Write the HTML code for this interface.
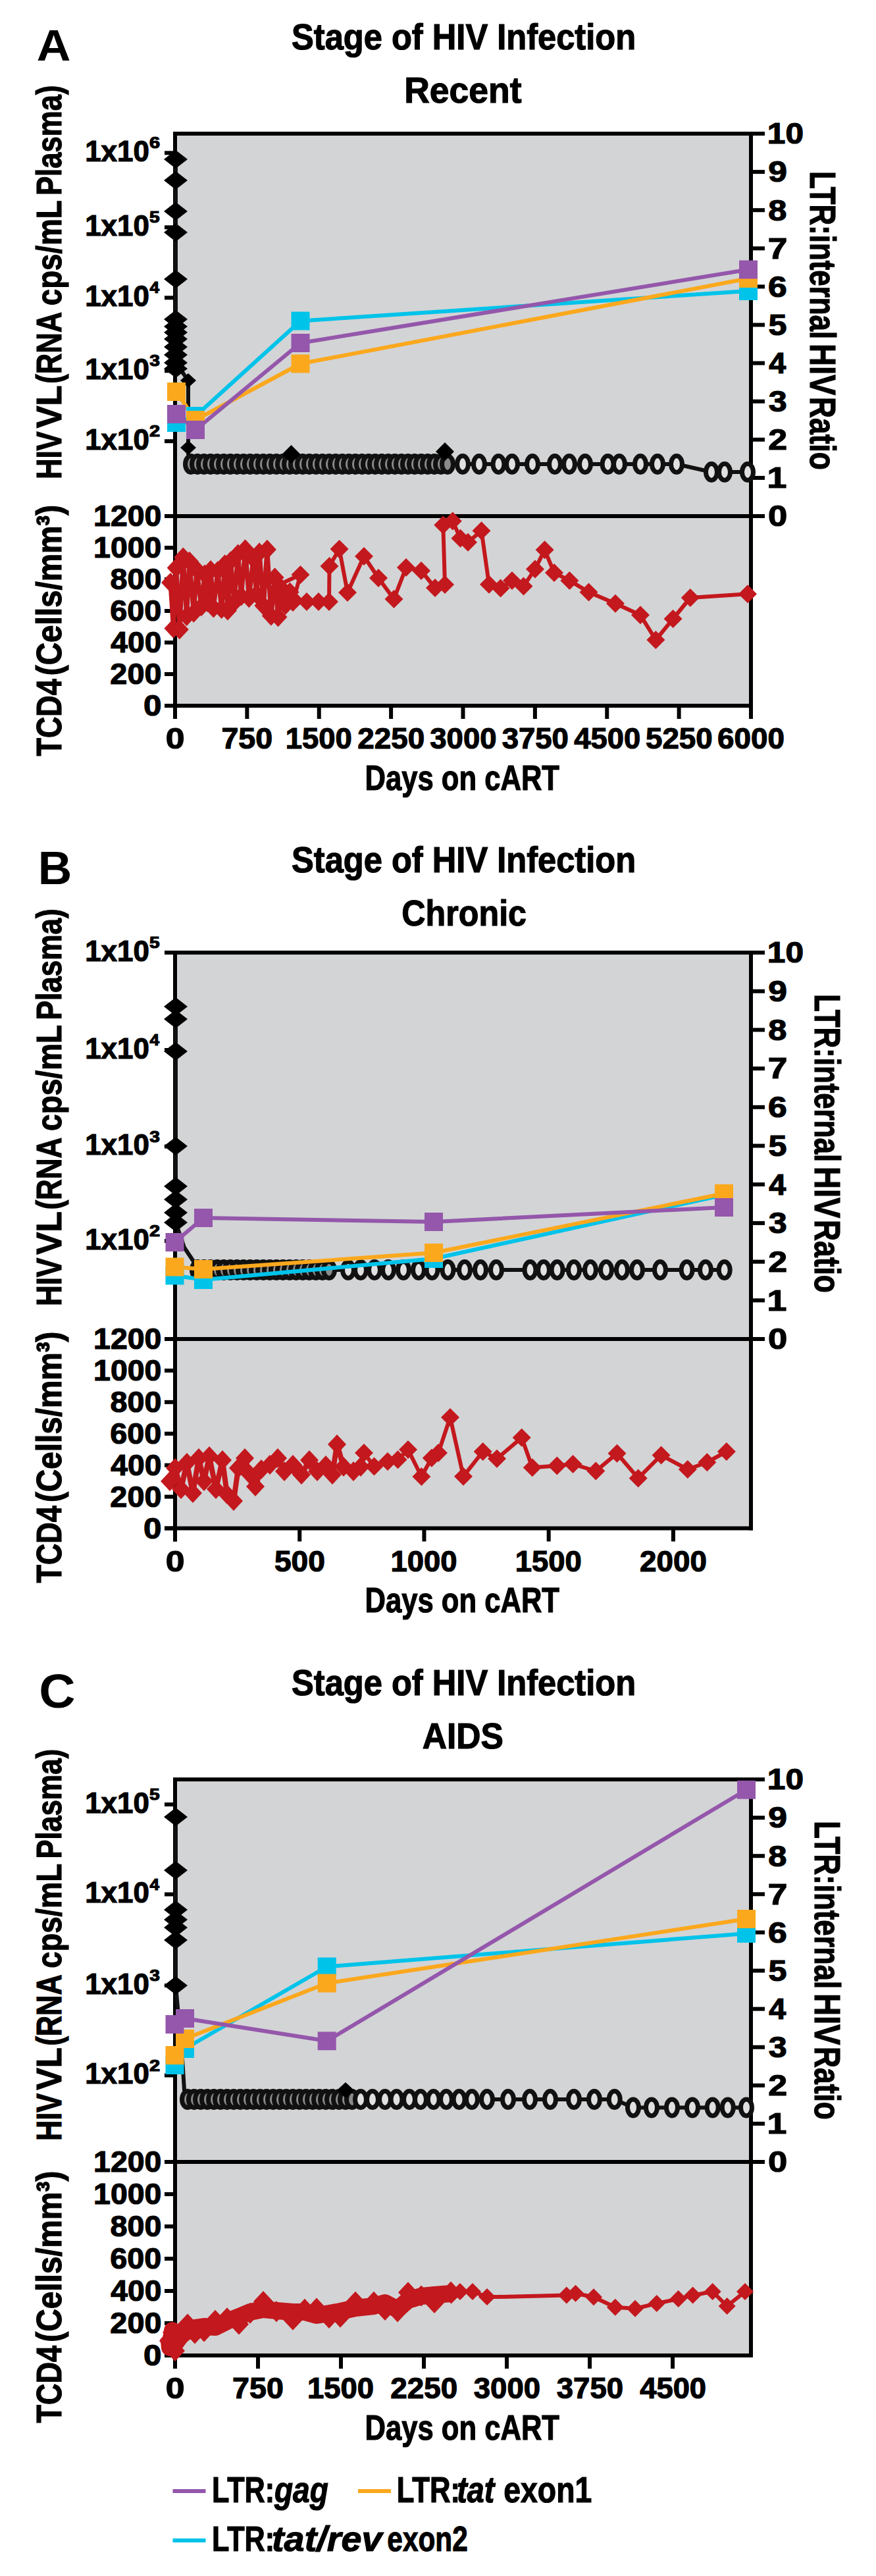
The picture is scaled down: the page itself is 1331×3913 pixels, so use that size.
<!DOCTYPE html>
<html><head><meta charset="utf-8"><style>html,body{margin:0;padding:0;background:#fff;}svg{display:block;}
text{font-family:"Liberation Sans",sans-serif;}</style></head><body><svg width="1331" height="3913" viewBox="0 0 1331 3913" font-family="Liberation Sans, sans-serif"><text x="55.72" y="92.00" font-size="66.86" font-weight="bold" font-style="normal" textLength="51.67" lengthAdjust="spacingAndGlyphs" fill="#000" >A</text><text x="443.04" y="75.30" font-size="54.65" font-weight="bold" font-style="normal" textLength="523.10" lengthAdjust="spacingAndGlyphs" fill="#000"  stroke="#000" stroke-width="1.2">Stage of HIV Infection</text><text x="614.22" y="156.20" font-size="55.81" font-weight="bold" font-style="normal" textLength="178.23" lengthAdjust="spacingAndGlyphs" fill="#000"  stroke="#000" stroke-width="1.2">Recent</text><rect x="266.00" y="203.00" width="875.00" height="869.00" fill="#d3d4d6"/><line x1="263.00" y1="203.00" x2="1162.00" y2="203.00" stroke="#000" stroke-width="6" /><line x1="266.00" y1="200.00" x2="266.00" y2="1092.00" stroke="#000" stroke-width="6" /><line x1="1141.00" y1="200.00" x2="1141.00" y2="1075.00" stroke="#000" stroke-width="6" /><line x1="250.00" y1="784.00" x2="1162.00" y2="784.00" stroke="#000" stroke-width="6" /><line x1="250.00" y1="1072.00" x2="1144.00" y2="1072.00" stroke="#000" stroke-width="6" /><line x1="250.00" y1="232.30" x2="266.00" y2="232.30" stroke="#000" stroke-width="6" /><text x="129.24" y="244.80" font-size="44.77" font-weight="bold" font-style="normal" textLength="97.56" lengthAdjust="spacingAndGlyphs" fill="#000"  stroke="#000" stroke-width="1.2">1x10</text><text x="226.94" y="225.30" font-size="24.71" font-weight="bold" font-style="normal" textLength="16.11" lengthAdjust="spacingAndGlyphs" fill="#000"  stroke="#000" stroke-width="1.2">6</text><line x1="250.00" y1="345.30" x2="266.00" y2="345.30" stroke="#000" stroke-width="6" /><text x="129.24" y="357.80" font-size="44.77" font-weight="bold" font-style="normal" textLength="97.56" lengthAdjust="spacingAndGlyphs" fill="#000"  stroke="#000" stroke-width="1.2">1x10</text><text x="227.13" y="338.30" font-size="24.71" font-weight="bold" font-style="normal" textLength="15.65" lengthAdjust="spacingAndGlyphs" fill="#000"  stroke="#000" stroke-width="1.2">5</text><line x1="250.00" y1="452.30" x2="266.00" y2="452.30" stroke="#000" stroke-width="6" /><text x="129.24" y="464.80" font-size="44.77" font-weight="bold" font-style="normal" textLength="97.56" lengthAdjust="spacingAndGlyphs" fill="#000"  stroke="#000" stroke-width="1.2">1x10</text><text x="227.60" y="445.30" font-size="24.71" font-weight="bold" font-style="normal" textLength="14.54" lengthAdjust="spacingAndGlyphs" fill="#000"  stroke="#000" stroke-width="1.2">4</text><line x1="250.00" y1="563.30" x2="266.00" y2="563.30" stroke="#000" stroke-width="6" /><text x="129.24" y="575.80" font-size="44.77" font-weight="bold" font-style="normal" textLength="97.56" lengthAdjust="spacingAndGlyphs" fill="#000"  stroke="#000" stroke-width="1.2">1x10</text><text x="227.35" y="556.30" font-size="24.71" font-weight="bold" font-style="normal" textLength="15.66" lengthAdjust="spacingAndGlyphs" fill="#000"  stroke="#000" stroke-width="1.2">3</text><line x1="250.00" y1="670.20" x2="266.00" y2="670.20" stroke="#000" stroke-width="6" /><text x="129.24" y="682.70" font-size="44.77" font-weight="bold" font-style="normal" textLength="97.56" lengthAdjust="spacingAndGlyphs" fill="#000"  stroke="#000" stroke-width="1.2">1x10</text><text x="226.99" y="663.20" font-size="24.71" font-weight="bold" font-style="normal" textLength="16.17" lengthAdjust="spacingAndGlyphs" fill="#000"  stroke="#000" stroke-width="1.2">2</text><line x1="1141.00" y1="784.00" x2="1162.00" y2="784.00" stroke="#000" stroke-width="6" /><text x="1166.92" y="799.30" font-size="44.48" font-weight="bold" font-style="normal" textLength="29.24" lengthAdjust="spacingAndGlyphs" fill="#000"  stroke="#000" stroke-width="1.2">0</text><line x1="1141.00" y1="725.90" x2="1162.00" y2="725.90" stroke="#000" stroke-width="6" /><text x="1165.62" y="741.20" font-size="44.48" font-weight="bold" font-style="normal" textLength="29.88" lengthAdjust="spacingAndGlyphs" fill="#000"  stroke="#000" stroke-width="1.2">1</text><line x1="1141.00" y1="667.80" x2="1162.00" y2="667.80" stroke="#000" stroke-width="6" /><text x="1167.20" y="683.10" font-size="44.48" font-weight="bold" font-style="normal" textLength="28.88" lengthAdjust="spacingAndGlyphs" fill="#000"  stroke="#000" stroke-width="1.2">2</text><line x1="1141.00" y1="609.70" x2="1162.00" y2="609.70" stroke="#000" stroke-width="6" /><text x="1167.85" y="625.00" font-size="44.48" font-weight="bold" font-style="normal" textLength="27.97" lengthAdjust="spacingAndGlyphs" fill="#000"  stroke="#000" stroke-width="1.2">3</text><line x1="1141.00" y1="551.60" x2="1162.00" y2="551.60" stroke="#000" stroke-width="6" /><text x="1168.29" y="566.90" font-size="44.48" font-weight="bold" font-style="normal" textLength="25.96" lengthAdjust="spacingAndGlyphs" fill="#000"  stroke="#000" stroke-width="1.2">4</text><line x1="1141.00" y1="493.50" x2="1162.00" y2="493.50" stroke="#000" stroke-width="6" /><text x="1167.45" y="508.80" font-size="44.48" font-weight="bold" font-style="normal" textLength="27.94" lengthAdjust="spacingAndGlyphs" fill="#000"  stroke="#000" stroke-width="1.2">5</text><line x1="1141.00" y1="435.40" x2="1162.00" y2="435.40" stroke="#000" stroke-width="6" /><text x="1167.11" y="450.70" font-size="44.48" font-weight="bold" font-style="normal" textLength="28.76" lengthAdjust="spacingAndGlyphs" fill="#000"  stroke="#000" stroke-width="1.2">6</text><line x1="1141.00" y1="377.30" x2="1162.00" y2="377.30" stroke="#000" stroke-width="6" /><text x="1166.71" y="392.60" font-size="44.48" font-weight="bold" font-style="normal" textLength="29.63" lengthAdjust="spacingAndGlyphs" fill="#000"  stroke="#000" stroke-width="1.2">7</text><line x1="1141.00" y1="319.20" x2="1162.00" y2="319.20" stroke="#000" stroke-width="6" /><text x="1167.39" y="334.50" font-size="44.48" font-weight="bold" font-style="normal" textLength="28.17" lengthAdjust="spacingAndGlyphs" fill="#000"  stroke="#000" stroke-width="1.2">8</text><line x1="1141.00" y1="261.10" x2="1162.00" y2="261.10" stroke="#000" stroke-width="6" /><text x="1167.21" y="276.40" font-size="44.48" font-weight="bold" font-style="normal" textLength="28.70" lengthAdjust="spacingAndGlyphs" fill="#000"  stroke="#000" stroke-width="1.2">9</text><line x1="1141.00" y1="203.00" x2="1162.00" y2="203.00" stroke="#000" stroke-width="6" /><text x="1165.88" y="218.30" font-size="44.48" font-weight="bold" font-style="normal" textLength="55.16" lengthAdjust="spacingAndGlyphs" fill="#000"  stroke="#000" stroke-width="1.2">10</text><line x1="250.00" y1="1072.00" x2="266.00" y2="1072.00" stroke="#000" stroke-width="6" /><text x="218.05" y="1087.30" font-size="44.48" font-weight="bold" font-style="normal" textLength="27.48" lengthAdjust="spacingAndGlyphs" fill="#000"  stroke="#000" stroke-width="1.2">0</text><line x1="250.00" y1="1024.00" x2="266.00" y2="1024.00" stroke="#000" stroke-width="6" /><text x="167.38" y="1039.30" font-size="44.48" font-weight="bold" font-style="normal" textLength="78.04" lengthAdjust="spacingAndGlyphs" fill="#000"  stroke="#000" stroke-width="1.2">200</text><line x1="250.00" y1="976.00" x2="266.00" y2="976.00" stroke="#000" stroke-width="6" /><text x="168.30" y="991.30" font-size="44.48" font-weight="bold" font-style="normal" textLength="77.09" lengthAdjust="spacingAndGlyphs" fill="#000"  stroke="#000" stroke-width="1.2">400</text><line x1="250.00" y1="928.00" x2="266.00" y2="928.00" stroke="#000" stroke-width="6" /><text x="167.28" y="943.30" font-size="44.48" font-weight="bold" font-style="normal" textLength="78.14" lengthAdjust="spacingAndGlyphs" fill="#000"  stroke="#000" stroke-width="1.2">600</text><line x1="250.00" y1="880.00" x2="266.00" y2="880.00" stroke="#000" stroke-width="6" /><text x="167.52" y="895.30" font-size="44.48" font-weight="bold" font-style="normal" textLength="77.90" lengthAdjust="spacingAndGlyphs" fill="#000"  stroke="#000" stroke-width="1.2">800</text><line x1="250.00" y1="832.00" x2="266.00" y2="832.00" stroke="#000" stroke-width="6" /><text x="142.07" y="847.30" font-size="44.48" font-weight="bold" font-style="normal" textLength="103.33" lengthAdjust="spacingAndGlyphs" fill="#000"  stroke="#000" stroke-width="1.2">1000</text><line x1="250.00" y1="784.00" x2="266.00" y2="784.00" stroke="#000" stroke-width="6" /><text x="142.07" y="799.30" font-size="44.48" font-weight="bold" font-style="normal" textLength="103.33" lengthAdjust="spacingAndGlyphs" fill="#000"  stroke="#000" stroke-width="1.2">1200</text><line x1="266.00" y1="1072.00" x2="266.00" y2="1092.00" stroke="#000" stroke-width="6" /><text x="251.65" y="1137.00" font-size="45.06" font-weight="bold" font-style="normal" textLength="28.77" lengthAdjust="spacingAndGlyphs" fill="#000"  stroke="#000" stroke-width="1.2">0</text><line x1="375.38" y1="1072.00" x2="375.38" y2="1092.00" stroke="#000" stroke-width="6" /><text x="336.47" y="1137.00" font-size="45.06" font-weight="bold" font-style="normal" textLength="77.71" lengthAdjust="spacingAndGlyphs" fill="#000"  stroke="#000" stroke-width="1.2">750</text><line x1="484.75" y1="1072.00" x2="484.75" y2="1092.00" stroke="#000" stroke-width="6" /><text x="433.69" y="1137.00" font-size="45.06" font-weight="bold" font-style="normal" textLength="101.13" lengthAdjust="spacingAndGlyphs" fill="#000"  stroke="#000" stroke-width="1.2">1500</text><line x1="594.12" y1="1072.00" x2="594.12" y2="1092.00" stroke="#000" stroke-width="6" /><text x="543.34" y="1137.00" font-size="45.06" font-weight="bold" font-style="normal" textLength="101.87" lengthAdjust="spacingAndGlyphs" fill="#000"  stroke="#000" stroke-width="1.2">2250</text><line x1="703.50" y1="1072.00" x2="703.50" y2="1092.00" stroke="#000" stroke-width="6" /><text x="653.25" y="1137.00" font-size="45.06" font-weight="bold" font-style="normal" textLength="101.31" lengthAdjust="spacingAndGlyphs" fill="#000"  stroke="#000" stroke-width="1.2">3000</text><line x1="812.88" y1="1072.00" x2="812.88" y2="1092.00" stroke="#000" stroke-width="6" /><text x="762.63" y="1137.00" font-size="45.06" font-weight="bold" font-style="normal" textLength="101.31" lengthAdjust="spacingAndGlyphs" fill="#000"  stroke="#000" stroke-width="1.2">3750</text><line x1="922.25" y1="1072.00" x2="922.25" y2="1092.00" stroke="#000" stroke-width="6" /><text x="872.36" y="1137.00" font-size="45.06" font-weight="bold" font-style="normal" textLength="100.95" lengthAdjust="spacingAndGlyphs" fill="#000"  stroke="#000" stroke-width="1.2">4500</text><line x1="1031.62" y1="1072.00" x2="1031.62" y2="1092.00" stroke="#000" stroke-width="6" /><text x="981.02" y="1137.00" font-size="45.06" font-weight="bold" font-style="normal" textLength="101.68" lengthAdjust="spacingAndGlyphs" fill="#000"  stroke="#000" stroke-width="1.2">5250</text><line x1="1141.00" y1="1072.00" x2="1141.00" y2="1092.00" stroke="#000" stroke-width="6" /><text x="1090.12" y="1137.00" font-size="45.06" font-weight="bold" font-style="normal" textLength="101.96" lengthAdjust="spacingAndGlyphs" fill="#000"  stroke="#000" stroke-width="1.2">6000</text><text x="554.59" y="1199.50" font-size="53.63" font-weight="bold" font-style="normal" textLength="295.38" lengthAdjust="spacingAndGlyphs" fill="#000"  stroke="#000" stroke-width="1.2">Days on cART</text><g transform="translate(93.00,725.00) rotate(-90)"><text x="-2.91" y="0.00" font-size="53.05" font-weight="bold" font-style="normal" textLength="72.52" lengthAdjust="spacingAndGlyphs" fill="#000"  stroke="#000" stroke-width="1.2">HIV</text></g><g transform="translate(93.00,649.99) rotate(-90)"><text x="-0.35" y="0.00" font-size="53.05" font-weight="bold" font-style="normal" textLength="64.87" lengthAdjust="spacingAndGlyphs" fill="#000"  stroke="#000" stroke-width="1.2">VL</text></g><g transform="translate(93.00,580.63) rotate(-90)"><text x="-2.17" y="0.00" font-size="53.05" font-weight="bold" font-style="normal" textLength="108.95" lengthAdjust="spacingAndGlyphs" fill="#000"  stroke="#000" stroke-width="1.2">(RNA</text></g><g transform="translate(93.00,462.42) rotate(-90)"><text x="-1.78" y="0.00" font-size="53.05" font-weight="bold" font-style="normal" textLength="159.79" lengthAdjust="spacingAndGlyphs" fill="#000"  stroke="#000" stroke-width="1.2">cps/mL</text></g><g transform="translate(93.00,294.19) rotate(-90)"><text x="-2.92" y="0.00" font-size="53.05" font-weight="bold" font-style="normal" textLength="167.69" lengthAdjust="spacingAndGlyphs" fill="#000"  stroke="#000" stroke-width="1.2">Plasma)</text></g><g transform="translate(93.00,1148.00) rotate(-90)"><text x="-0.50" y="0.00" font-size="53.05" font-weight="bold" font-style="normal" textLength="117.16" lengthAdjust="spacingAndGlyphs" fill="#000"  stroke="#000" stroke-width="1.2">TCD4</text></g><g transform="translate(93.00,1023.79) rotate(-90)"><text x="-2.37" y="0.00" font-size="53.05" font-weight="bold" font-style="normal" textLength="259.23" lengthAdjust="spacingAndGlyphs" fill="#000"  stroke="#000" stroke-width="1.2">(Cells/mm³)</text></g><g transform="translate(1231.00,263.00) rotate(90)"><text x="-2.90" y="0.00" font-size="55.23" font-weight="bold" font-style="normal" textLength="254.98" lengthAdjust="spacingAndGlyphs" fill="#000"  stroke="#000" stroke-width="1.2">LTR:internal</text></g><g transform="translate(1231.00,525.49) rotate(90)"><text x="-3.13" y="0.00" font-size="55.23" font-weight="bold" font-style="normal" textLength="77.98" lengthAdjust="spacingAndGlyphs" fill="#000"  stroke="#000" stroke-width="1.2">HIV</text></g><g transform="translate(1231.00,605.99) rotate(90)"><text x="-2.96" y="0.00" font-size="55.23" font-weight="bold" font-style="normal" textLength="110.70" lengthAdjust="spacingAndGlyphs" fill="#000"  stroke="#000" stroke-width="1.2">Ratio</text></g><text x="57.73" y="1343.00" font-size="71.22" font-weight="bold" font-style="normal" textLength="51.51" lengthAdjust="spacingAndGlyphs" fill="#000" >B</text><text x="443.04" y="1325.30" font-size="54.65" font-weight="bold" font-style="normal" textLength="523.10" lengthAdjust="spacingAndGlyphs" fill="#000"  stroke="#000" stroke-width="1.2">Stage of HIV Infection</text><text x="610.24" y="1406.20" font-size="55.81" font-weight="bold" font-style="normal" textLength="189.83" lengthAdjust="spacingAndGlyphs" fill="#000"  stroke="#000" stroke-width="1.2">Chronic</text><rect x="266.00" y="1447.00" width="875.00" height="874.50" fill="#d3d4d6"/><line x1="250.00" y1="1447.00" x2="1162.00" y2="1447.00" stroke="#000" stroke-width="6" /><line x1="266.00" y1="1444.00" x2="266.00" y2="2341.50" stroke="#000" stroke-width="6" /><line x1="1141.00" y1="1444.00" x2="1141.00" y2="2324.50" stroke="#000" stroke-width="6" /><line x1="250.00" y1="2034.00" x2="1162.00" y2="2034.00" stroke="#000" stroke-width="6" /><line x1="250.00" y1="2321.50" x2="1144.00" y2="2321.50" stroke="#000" stroke-width="6" /><line x1="250.00" y1="1447.00" x2="266.00" y2="1447.00" stroke="#000" stroke-width="6" /><text x="129.24" y="1459.50" font-size="44.77" font-weight="bold" font-style="normal" textLength="97.56" lengthAdjust="spacingAndGlyphs" fill="#000"  stroke="#000" stroke-width="1.2">1x10</text><text x="227.13" y="1440.00" font-size="24.71" font-weight="bold" font-style="normal" textLength="15.65" lengthAdjust="spacingAndGlyphs" fill="#000"  stroke="#000" stroke-width="1.2">5</text><line x1="250.00" y1="1595.00" x2="266.00" y2="1595.00" stroke="#000" stroke-width="6" /><text x="129.24" y="1607.50" font-size="44.77" font-weight="bold" font-style="normal" textLength="97.56" lengthAdjust="spacingAndGlyphs" fill="#000"  stroke="#000" stroke-width="1.2">1x10</text><text x="227.60" y="1588.00" font-size="24.71" font-weight="bold" font-style="normal" textLength="14.54" lengthAdjust="spacingAndGlyphs" fill="#000"  stroke="#000" stroke-width="1.2">4</text><line x1="250.00" y1="1741.50" x2="266.00" y2="1741.50" stroke="#000" stroke-width="6" /><text x="129.24" y="1754.00" font-size="44.77" font-weight="bold" font-style="normal" textLength="97.56" lengthAdjust="spacingAndGlyphs" fill="#000"  stroke="#000" stroke-width="1.2">1x10</text><text x="227.35" y="1734.50" font-size="24.71" font-weight="bold" font-style="normal" textLength="15.66" lengthAdjust="spacingAndGlyphs" fill="#000"  stroke="#000" stroke-width="1.2">3</text><line x1="250.00" y1="1885.00" x2="266.00" y2="1885.00" stroke="#000" stroke-width="6" /><text x="129.24" y="1897.50" font-size="44.77" font-weight="bold" font-style="normal" textLength="97.56" lengthAdjust="spacingAndGlyphs" fill="#000"  stroke="#000" stroke-width="1.2">1x10</text><text x="226.99" y="1878.00" font-size="24.71" font-weight="bold" font-style="normal" textLength="16.17" lengthAdjust="spacingAndGlyphs" fill="#000"  stroke="#000" stroke-width="1.2">2</text><line x1="1141.00" y1="2034.00" x2="1162.00" y2="2034.00" stroke="#000" stroke-width="6" /><text x="1166.92" y="2049.30" font-size="44.48" font-weight="bold" font-style="normal" textLength="29.24" lengthAdjust="spacingAndGlyphs" fill="#000"  stroke="#000" stroke-width="1.2">0</text><line x1="1141.00" y1="1975.30" x2="1162.00" y2="1975.30" stroke="#000" stroke-width="6" /><text x="1165.62" y="1990.60" font-size="44.48" font-weight="bold" font-style="normal" textLength="29.88" lengthAdjust="spacingAndGlyphs" fill="#000"  stroke="#000" stroke-width="1.2">1</text><line x1="1141.00" y1="1916.60" x2="1162.00" y2="1916.60" stroke="#000" stroke-width="6" /><text x="1167.20" y="1931.90" font-size="44.48" font-weight="bold" font-style="normal" textLength="28.88" lengthAdjust="spacingAndGlyphs" fill="#000"  stroke="#000" stroke-width="1.2">2</text><line x1="1141.00" y1="1857.90" x2="1162.00" y2="1857.90" stroke="#000" stroke-width="6" /><text x="1167.85" y="1873.20" font-size="44.48" font-weight="bold" font-style="normal" textLength="27.97" lengthAdjust="spacingAndGlyphs" fill="#000"  stroke="#000" stroke-width="1.2">3</text><line x1="1141.00" y1="1799.20" x2="1162.00" y2="1799.20" stroke="#000" stroke-width="6" /><text x="1168.29" y="1814.50" font-size="44.48" font-weight="bold" font-style="normal" textLength="25.96" lengthAdjust="spacingAndGlyphs" fill="#000"  stroke="#000" stroke-width="1.2">4</text><line x1="1141.00" y1="1740.50" x2="1162.00" y2="1740.50" stroke="#000" stroke-width="6" /><text x="1167.45" y="1755.80" font-size="44.48" font-weight="bold" font-style="normal" textLength="27.94" lengthAdjust="spacingAndGlyphs" fill="#000"  stroke="#000" stroke-width="1.2">5</text><line x1="1141.00" y1="1681.80" x2="1162.00" y2="1681.80" stroke="#000" stroke-width="6" /><text x="1167.11" y="1697.10" font-size="44.48" font-weight="bold" font-style="normal" textLength="28.76" lengthAdjust="spacingAndGlyphs" fill="#000"  stroke="#000" stroke-width="1.2">6</text><line x1="1141.00" y1="1623.10" x2="1162.00" y2="1623.10" stroke="#000" stroke-width="6" /><text x="1166.71" y="1638.40" font-size="44.48" font-weight="bold" font-style="normal" textLength="29.63" lengthAdjust="spacingAndGlyphs" fill="#000"  stroke="#000" stroke-width="1.2">7</text><line x1="1141.00" y1="1564.40" x2="1162.00" y2="1564.40" stroke="#000" stroke-width="6" /><text x="1167.39" y="1579.70" font-size="44.48" font-weight="bold" font-style="normal" textLength="28.17" lengthAdjust="spacingAndGlyphs" fill="#000"  stroke="#000" stroke-width="1.2">8</text><line x1="1141.00" y1="1505.70" x2="1162.00" y2="1505.70" stroke="#000" stroke-width="6" /><text x="1167.21" y="1521.00" font-size="44.48" font-weight="bold" font-style="normal" textLength="28.70" lengthAdjust="spacingAndGlyphs" fill="#000"  stroke="#000" stroke-width="1.2">9</text><line x1="1141.00" y1="1447.00" x2="1162.00" y2="1447.00" stroke="#000" stroke-width="6" /><text x="1165.88" y="1462.30" font-size="44.48" font-weight="bold" font-style="normal" textLength="55.16" lengthAdjust="spacingAndGlyphs" fill="#000"  stroke="#000" stroke-width="1.2">10</text><line x1="250.00" y1="2321.50" x2="266.00" y2="2321.50" stroke="#000" stroke-width="6" /><text x="218.05" y="2336.80" font-size="44.48" font-weight="bold" font-style="normal" textLength="27.48" lengthAdjust="spacingAndGlyphs" fill="#000"  stroke="#000" stroke-width="1.2">0</text><line x1="250.00" y1="2273.58" x2="266.00" y2="2273.58" stroke="#000" stroke-width="6" /><text x="167.38" y="2288.88" font-size="44.48" font-weight="bold" font-style="normal" textLength="78.04" lengthAdjust="spacingAndGlyphs" fill="#000"  stroke="#000" stroke-width="1.2">200</text><line x1="250.00" y1="2225.67" x2="266.00" y2="2225.67" stroke="#000" stroke-width="6" /><text x="168.30" y="2240.97" font-size="44.48" font-weight="bold" font-style="normal" textLength="77.09" lengthAdjust="spacingAndGlyphs" fill="#000"  stroke="#000" stroke-width="1.2">400</text><line x1="250.00" y1="2177.75" x2="266.00" y2="2177.75" stroke="#000" stroke-width="6" /><text x="167.28" y="2193.05" font-size="44.48" font-weight="bold" font-style="normal" textLength="78.14" lengthAdjust="spacingAndGlyphs" fill="#000"  stroke="#000" stroke-width="1.2">600</text><line x1="250.00" y1="2129.83" x2="266.00" y2="2129.83" stroke="#000" stroke-width="6" /><text x="167.52" y="2145.13" font-size="44.48" font-weight="bold" font-style="normal" textLength="77.90" lengthAdjust="spacingAndGlyphs" fill="#000"  stroke="#000" stroke-width="1.2">800</text><line x1="250.00" y1="2081.92" x2="266.00" y2="2081.92" stroke="#000" stroke-width="6" /><text x="142.07" y="2097.22" font-size="44.48" font-weight="bold" font-style="normal" textLength="103.33" lengthAdjust="spacingAndGlyphs" fill="#000"  stroke="#000" stroke-width="1.2">1000</text><line x1="250.00" y1="2034.00" x2="266.00" y2="2034.00" stroke="#000" stroke-width="6" /><text x="142.07" y="2049.30" font-size="44.48" font-weight="bold" font-style="normal" textLength="103.33" lengthAdjust="spacingAndGlyphs" fill="#000"  stroke="#000" stroke-width="1.2">1200</text><line x1="266.00" y1="2321.50" x2="266.00" y2="2341.50" stroke="#000" stroke-width="6" /><text x="251.65" y="2386.50" font-size="45.06" font-weight="bold" font-style="normal" textLength="28.77" lengthAdjust="spacingAndGlyphs" fill="#000"  stroke="#000" stroke-width="1.2">0</text><line x1="455.23" y1="2321.50" x2="455.23" y2="2341.50" stroke="#000" stroke-width="6" /><text x="416.91" y="2386.50" font-size="45.06" font-weight="bold" font-style="normal" textLength="77.12" lengthAdjust="spacingAndGlyphs" fill="#000"  stroke="#000" stroke-width="1.2">500</text><line x1="644.46" y1="2321.50" x2="644.46" y2="2341.50" stroke="#000" stroke-width="6" /><text x="593.40" y="2386.50" font-size="45.06" font-weight="bold" font-style="normal" textLength="101.13" lengthAdjust="spacingAndGlyphs" fill="#000"  stroke="#000" stroke-width="1.2">1000</text><line x1="833.69" y1="2321.50" x2="833.69" y2="2341.50" stroke="#000" stroke-width="6" /><text x="782.63" y="2386.50" font-size="45.06" font-weight="bold" font-style="normal" textLength="101.13" lengthAdjust="spacingAndGlyphs" fill="#000"  stroke="#000" stroke-width="1.2">1500</text><line x1="1022.92" y1="2321.50" x2="1022.92" y2="2341.50" stroke="#000" stroke-width="6" /><text x="972.13" y="2386.50" font-size="45.06" font-weight="bold" font-style="normal" textLength="101.87" lengthAdjust="spacingAndGlyphs" fill="#000"  stroke="#000" stroke-width="1.2">2000</text><text x="554.59" y="2449.00" font-size="53.63" font-weight="bold" font-style="normal" textLength="295.38" lengthAdjust="spacingAndGlyphs" fill="#000"  stroke="#000" stroke-width="1.2">Days on cART</text><g transform="translate(93.00,1981.00) rotate(-90)"><text x="-2.94" y="0.00" font-size="53.05" font-weight="bold" font-style="normal" textLength="73.14" lengthAdjust="spacingAndGlyphs" fill="#000"  stroke="#000" stroke-width="1.2">HIV</text></g><g transform="translate(93.00,1905.35) rotate(-90)"><text x="-0.35" y="0.00" font-size="53.05" font-weight="bold" font-style="normal" textLength="65.43" lengthAdjust="spacingAndGlyphs" fill="#000"  stroke="#000" stroke-width="1.2">VL</text></g><g transform="translate(93.00,1835.38) rotate(-90)"><text x="-2.19" y="0.00" font-size="53.05" font-weight="bold" font-style="normal" textLength="109.88" lengthAdjust="spacingAndGlyphs" fill="#000"  stroke="#000" stroke-width="1.2">(RNA</text></g><g transform="translate(93.00,1716.16) rotate(-90)"><text x="-1.80" y="0.00" font-size="53.05" font-weight="bold" font-style="normal" textLength="161.16" lengthAdjust="spacingAndGlyphs" fill="#000"  stroke="#000" stroke-width="1.2">cps/mL</text></g><g transform="translate(93.00,1546.49) rotate(-90)"><text x="-2.95" y="0.00" font-size="53.05" font-weight="bold" font-style="normal" textLength="169.14" lengthAdjust="spacingAndGlyphs" fill="#000"  stroke="#000" stroke-width="1.2">Plasma)</text></g><g transform="translate(93.00,2404.00) rotate(-90)"><text x="-0.50" y="0.00" font-size="53.05" font-weight="bold" font-style="normal" textLength="117.25" lengthAdjust="spacingAndGlyphs" fill="#000"  stroke="#000" stroke-width="1.2">TCD4</text></g><g transform="translate(93.00,2279.69) rotate(-90)"><text x="-2.37" y="0.00" font-size="53.05" font-weight="bold" font-style="normal" textLength="259.43" lengthAdjust="spacingAndGlyphs" fill="#000"  stroke="#000" stroke-width="1.2">(Cells/mm³)</text></g><g transform="translate(1237.60,1513.00) rotate(90)"><text x="-2.90" y="0.00" font-size="55.23" font-weight="bold" font-style="normal" textLength="254.98" lengthAdjust="spacingAndGlyphs" fill="#000"  stroke="#000" stroke-width="1.2">LTR:internal</text></g><g transform="translate(1237.60,1775.49) rotate(90)"><text x="-3.13" y="0.00" font-size="55.23" font-weight="bold" font-style="normal" textLength="77.98" lengthAdjust="spacingAndGlyphs" fill="#000"  stroke="#000" stroke-width="1.2">HIV</text></g><g transform="translate(1237.60,1855.99) rotate(90)"><text x="-2.96" y="0.00" font-size="55.23" font-weight="bold" font-style="normal" textLength="110.70" lengthAdjust="spacingAndGlyphs" fill="#000"  stroke="#000" stroke-width="1.2">Ratio</text></g><text x="59.36" y="2593.50" font-size="71.95" font-weight="bold" font-style="normal" textLength="55.23" lengthAdjust="spacingAndGlyphs" fill="#000" >C</text><text x="443.04" y="2575.30" font-size="54.65" font-weight="bold" font-style="normal" textLength="523.10" lengthAdjust="spacingAndGlyphs" fill="#000"  stroke="#000" stroke-width="1.2">Stage of HIV Infection</text><text x="641.71" y="2656.20" font-size="55.81" font-weight="bold" font-style="normal" textLength="123.30" lengthAdjust="spacingAndGlyphs" fill="#000"  stroke="#000" stroke-width="1.2">AIDS</text><rect x="266.00" y="2703.00" width="875.00" height="875.00" fill="#d3d4d6"/><line x1="263.00" y1="2703.00" x2="1162.00" y2="2703.00" stroke="#000" stroke-width="6" /><line x1="266.00" y1="2700.00" x2="266.00" y2="3598.00" stroke="#000" stroke-width="6" /><line x1="1141.00" y1="2700.00" x2="1141.00" y2="3581.00" stroke="#000" stroke-width="6" /><line x1="250.00" y1="3284.00" x2="1162.00" y2="3284.00" stroke="#000" stroke-width="6" /><line x1="250.00" y1="3578.00" x2="1144.00" y2="3578.00" stroke="#000" stroke-width="6" /><line x1="250.00" y1="2741.00" x2="266.00" y2="2741.00" stroke="#000" stroke-width="6" /><text x="129.24" y="2753.50" font-size="44.77" font-weight="bold" font-style="normal" textLength="97.56" lengthAdjust="spacingAndGlyphs" fill="#000"  stroke="#000" stroke-width="1.2">1x10</text><text x="227.13" y="2734.00" font-size="24.71" font-weight="bold" font-style="normal" textLength="15.65" lengthAdjust="spacingAndGlyphs" fill="#000"  stroke="#000" stroke-width="1.2">5</text><line x1="250.00" y1="2877.50" x2="266.00" y2="2877.50" stroke="#000" stroke-width="6" /><text x="129.24" y="2890.00" font-size="44.77" font-weight="bold" font-style="normal" textLength="97.56" lengthAdjust="spacingAndGlyphs" fill="#000"  stroke="#000" stroke-width="1.2">1x10</text><text x="227.60" y="2870.50" font-size="24.71" font-weight="bold" font-style="normal" textLength="14.54" lengthAdjust="spacingAndGlyphs" fill="#000"  stroke="#000" stroke-width="1.2">4</text><line x1="250.00" y1="3016.00" x2="266.00" y2="3016.00" stroke="#000" stroke-width="6" /><text x="129.24" y="3028.50" font-size="44.77" font-weight="bold" font-style="normal" textLength="97.56" lengthAdjust="spacingAndGlyphs" fill="#000"  stroke="#000" stroke-width="1.2">1x10</text><text x="227.35" y="3009.00" font-size="24.71" font-weight="bold" font-style="normal" textLength="15.66" lengthAdjust="spacingAndGlyphs" fill="#000"  stroke="#000" stroke-width="1.2">3</text><line x1="250.00" y1="3152.50" x2="266.00" y2="3152.50" stroke="#000" stroke-width="6" /><text x="129.24" y="3165.00" font-size="44.77" font-weight="bold" font-style="normal" textLength="97.56" lengthAdjust="spacingAndGlyphs" fill="#000"  stroke="#000" stroke-width="1.2">1x10</text><text x="226.99" y="3145.50" font-size="24.71" font-weight="bold" font-style="normal" textLength="16.17" lengthAdjust="spacingAndGlyphs" fill="#000"  stroke="#000" stroke-width="1.2">2</text><line x1="1141.00" y1="3284.00" x2="1162.00" y2="3284.00" stroke="#000" stroke-width="6" /><text x="1166.92" y="3299.30" font-size="44.48" font-weight="bold" font-style="normal" textLength="29.24" lengthAdjust="spacingAndGlyphs" fill="#000"  stroke="#000" stroke-width="1.2">0</text><line x1="1141.00" y1="3225.90" x2="1162.00" y2="3225.90" stroke="#000" stroke-width="6" /><text x="1165.62" y="3241.20" font-size="44.48" font-weight="bold" font-style="normal" textLength="29.88" lengthAdjust="spacingAndGlyphs" fill="#000"  stroke="#000" stroke-width="1.2">1</text><line x1="1141.00" y1="3167.80" x2="1162.00" y2="3167.80" stroke="#000" stroke-width="6" /><text x="1167.20" y="3183.10" font-size="44.48" font-weight="bold" font-style="normal" textLength="28.88" lengthAdjust="spacingAndGlyphs" fill="#000"  stroke="#000" stroke-width="1.2">2</text><line x1="1141.00" y1="3109.70" x2="1162.00" y2="3109.70" stroke="#000" stroke-width="6" /><text x="1167.85" y="3125.00" font-size="44.48" font-weight="bold" font-style="normal" textLength="27.97" lengthAdjust="spacingAndGlyphs" fill="#000"  stroke="#000" stroke-width="1.2">3</text><line x1="1141.00" y1="3051.60" x2="1162.00" y2="3051.60" stroke="#000" stroke-width="6" /><text x="1168.29" y="3066.90" font-size="44.48" font-weight="bold" font-style="normal" textLength="25.96" lengthAdjust="spacingAndGlyphs" fill="#000"  stroke="#000" stroke-width="1.2">4</text><line x1="1141.00" y1="2993.50" x2="1162.00" y2="2993.50" stroke="#000" stroke-width="6" /><text x="1167.45" y="3008.80" font-size="44.48" font-weight="bold" font-style="normal" textLength="27.94" lengthAdjust="spacingAndGlyphs" fill="#000"  stroke="#000" stroke-width="1.2">5</text><line x1="1141.00" y1="2935.40" x2="1162.00" y2="2935.40" stroke="#000" stroke-width="6" /><text x="1167.11" y="2950.70" font-size="44.48" font-weight="bold" font-style="normal" textLength="28.76" lengthAdjust="spacingAndGlyphs" fill="#000"  stroke="#000" stroke-width="1.2">6</text><line x1="1141.00" y1="2877.30" x2="1162.00" y2="2877.30" stroke="#000" stroke-width="6" /><text x="1166.71" y="2892.60" font-size="44.48" font-weight="bold" font-style="normal" textLength="29.63" lengthAdjust="spacingAndGlyphs" fill="#000"  stroke="#000" stroke-width="1.2">7</text><line x1="1141.00" y1="2819.20" x2="1162.00" y2="2819.20" stroke="#000" stroke-width="6" /><text x="1167.39" y="2834.50" font-size="44.48" font-weight="bold" font-style="normal" textLength="28.17" lengthAdjust="spacingAndGlyphs" fill="#000"  stroke="#000" stroke-width="1.2">8</text><line x1="1141.00" y1="2761.10" x2="1162.00" y2="2761.10" stroke="#000" stroke-width="6" /><text x="1167.21" y="2776.40" font-size="44.48" font-weight="bold" font-style="normal" textLength="28.70" lengthAdjust="spacingAndGlyphs" fill="#000"  stroke="#000" stroke-width="1.2">9</text><line x1="1141.00" y1="2703.00" x2="1162.00" y2="2703.00" stroke="#000" stroke-width="6" /><text x="1165.88" y="2718.30" font-size="44.48" font-weight="bold" font-style="normal" textLength="55.16" lengthAdjust="spacingAndGlyphs" fill="#000"  stroke="#000" stroke-width="1.2">10</text><line x1="250.00" y1="3578.00" x2="266.00" y2="3578.00" stroke="#000" stroke-width="6" /><text x="218.05" y="3593.30" font-size="44.48" font-weight="bold" font-style="normal" textLength="27.48" lengthAdjust="spacingAndGlyphs" fill="#000"  stroke="#000" stroke-width="1.2">0</text><line x1="250.00" y1="3529.00" x2="266.00" y2="3529.00" stroke="#000" stroke-width="6" /><text x="167.38" y="3544.30" font-size="44.48" font-weight="bold" font-style="normal" textLength="78.04" lengthAdjust="spacingAndGlyphs" fill="#000"  stroke="#000" stroke-width="1.2">200</text><line x1="250.00" y1="3480.00" x2="266.00" y2="3480.00" stroke="#000" stroke-width="6" /><text x="168.30" y="3495.30" font-size="44.48" font-weight="bold" font-style="normal" textLength="77.09" lengthAdjust="spacingAndGlyphs" fill="#000"  stroke="#000" stroke-width="1.2">400</text><line x1="250.00" y1="3431.00" x2="266.00" y2="3431.00" stroke="#000" stroke-width="6" /><text x="167.28" y="3446.30" font-size="44.48" font-weight="bold" font-style="normal" textLength="78.14" lengthAdjust="spacingAndGlyphs" fill="#000"  stroke="#000" stroke-width="1.2">600</text><line x1="250.00" y1="3382.00" x2="266.00" y2="3382.00" stroke="#000" stroke-width="6" /><text x="167.52" y="3397.30" font-size="44.48" font-weight="bold" font-style="normal" textLength="77.90" lengthAdjust="spacingAndGlyphs" fill="#000"  stroke="#000" stroke-width="1.2">800</text><line x1="250.00" y1="3333.00" x2="266.00" y2="3333.00" stroke="#000" stroke-width="6" /><text x="142.07" y="3348.30" font-size="44.48" font-weight="bold" font-style="normal" textLength="103.33" lengthAdjust="spacingAndGlyphs" fill="#000"  stroke="#000" stroke-width="1.2">1000</text><line x1="250.00" y1="3284.00" x2="266.00" y2="3284.00" stroke="#000" stroke-width="6" /><text x="142.07" y="3299.30" font-size="44.48" font-weight="bold" font-style="normal" textLength="103.33" lengthAdjust="spacingAndGlyphs" fill="#000"  stroke="#000" stroke-width="1.2">1200</text><line x1="266.00" y1="3578.00" x2="266.00" y2="3598.00" stroke="#000" stroke-width="6" /><text x="251.65" y="3643.00" font-size="45.06" font-weight="bold" font-style="normal" textLength="28.77" lengthAdjust="spacingAndGlyphs" fill="#000"  stroke="#000" stroke-width="1.2">0</text><line x1="392.01" y1="3578.00" x2="392.01" y2="3598.00" stroke="#000" stroke-width="6" /><text x="353.11" y="3643.00" font-size="45.06" font-weight="bold" font-style="normal" textLength="77.71" lengthAdjust="spacingAndGlyphs" fill="#000"  stroke="#000" stroke-width="1.2">750</text><line x1="518.02" y1="3578.00" x2="518.02" y2="3598.00" stroke="#000" stroke-width="6" /><text x="466.95" y="3643.00" font-size="45.06" font-weight="bold" font-style="normal" textLength="101.13" lengthAdjust="spacingAndGlyphs" fill="#000"  stroke="#000" stroke-width="1.2">1500</text><line x1="644.02" y1="3578.00" x2="644.02" y2="3598.00" stroke="#000" stroke-width="6" /><text x="593.24" y="3643.00" font-size="45.06" font-weight="bold" font-style="normal" textLength="101.87" lengthAdjust="spacingAndGlyphs" fill="#000"  stroke="#000" stroke-width="1.2">2250</text><line x1="770.03" y1="3578.00" x2="770.03" y2="3598.00" stroke="#000" stroke-width="6" /><text x="719.79" y="3643.00" font-size="45.06" font-weight="bold" font-style="normal" textLength="101.31" lengthAdjust="spacingAndGlyphs" fill="#000"  stroke="#000" stroke-width="1.2">3000</text><line x1="896.04" y1="3578.00" x2="896.04" y2="3598.00" stroke="#000" stroke-width="6" /><text x="845.80" y="3643.00" font-size="45.06" font-weight="bold" font-style="normal" textLength="101.31" lengthAdjust="spacingAndGlyphs" fill="#000"  stroke="#000" stroke-width="1.2">3750</text><line x1="1022.05" y1="3578.00" x2="1022.05" y2="3598.00" stroke="#000" stroke-width="6" /><text x="972.16" y="3643.00" font-size="45.06" font-weight="bold" font-style="normal" textLength="100.95" lengthAdjust="spacingAndGlyphs" fill="#000"  stroke="#000" stroke-width="1.2">4500</text><text x="554.59" y="3705.50" font-size="53.63" font-weight="bold" font-style="normal" textLength="295.38" lengthAdjust="spacingAndGlyphs" fill="#000"  stroke="#000" stroke-width="1.2">Days on cART</text><g transform="translate(93.00,3249.00) rotate(-90)"><text x="-2.89" y="0.00" font-size="53.05" font-weight="bold" font-style="normal" textLength="72.10" lengthAdjust="spacingAndGlyphs" fill="#000"  stroke="#000" stroke-width="1.2">HIV</text></g><g transform="translate(93.00,3174.42) rotate(-90)"><text x="-0.35" y="0.00" font-size="53.05" font-weight="bold" font-style="normal" textLength="64.50" lengthAdjust="spacingAndGlyphs" fill="#000"  stroke="#000" stroke-width="1.2">VL</text></g><g transform="translate(93.00,3105.45) rotate(-90)"><text x="-2.16" y="0.00" font-size="53.05" font-weight="bold" font-style="normal" textLength="108.32" lengthAdjust="spacingAndGlyphs" fill="#000"  stroke="#000" stroke-width="1.2">(RNA</text></g><g transform="translate(93.00,2987.93) rotate(-90)"><text x="-1.77" y="0.00" font-size="53.05" font-weight="bold" font-style="normal" textLength="158.87" lengthAdjust="spacingAndGlyphs" fill="#000"  stroke="#000" stroke-width="1.2">cps/mL</text></g><g transform="translate(93.00,2820.66) rotate(-90)"><text x="-2.91" y="0.00" font-size="53.05" font-weight="bold" font-style="normal" textLength="166.73" lengthAdjust="spacingAndGlyphs" fill="#000"  stroke="#000" stroke-width="1.2">Plasma)</text></g><g transform="translate(93.00,3680.00) rotate(-90)"><text x="-0.51" y="0.00" font-size="53.05" font-weight="bold" font-style="normal" textLength="117.56" lengthAdjust="spacingAndGlyphs" fill="#000"  stroke="#000" stroke-width="1.2">TCD4</text></g><g transform="translate(93.00,3555.36) rotate(-90)"><text x="-2.38" y="0.00" font-size="53.05" font-weight="bold" font-style="normal" textLength="260.12" lengthAdjust="spacingAndGlyphs" fill="#000"  stroke="#000" stroke-width="1.2">(Cells/mm³)</text></g><g transform="translate(1237.80,2769.00) rotate(90)"><text x="-2.90" y="0.00" font-size="55.23" font-weight="bold" font-style="normal" textLength="254.98" lengthAdjust="spacingAndGlyphs" fill="#000"  stroke="#000" stroke-width="1.2">LTR:internal</text></g><g transform="translate(1237.80,3031.49) rotate(90)"><text x="-3.13" y="0.00" font-size="55.23" font-weight="bold" font-style="normal" textLength="77.98" lengthAdjust="spacingAndGlyphs" fill="#000"  stroke="#000" stroke-width="1.2">HIV</text></g><g transform="translate(1237.80,3111.99) rotate(90)"><text x="-2.96" y="0.00" font-size="55.23" font-weight="bold" font-style="normal" textLength="110.70" lengthAdjust="spacingAndGlyphs" fill="#000"  stroke="#000" stroke-width="1.2">Ratio</text></g><polyline points="267.0,242.0 267.0,551.0 286.0,578.0 286.0,690.0 298.0,705.0" fill="none" stroke="#111" stroke-width="6" stroke-linejoin="round" /><polygon points="249.0,242.0 267.0,228.0 285.0,242.0 267.0,256.0" fill="#000"/><polygon points="249.0,274.0 267.0,260.0 285.0,274.0 267.0,288.0" fill="#000"/><polygon points="249.0,321.0 267.0,307.0 285.0,321.0 267.0,335.0" fill="#000"/><polygon points="249.0,353.0 267.0,339.0 285.0,353.0 267.0,367.0" fill="#000"/><polygon points="249.0,424.0 267.0,410.0 285.0,424.0 267.0,438.0" fill="#000"/><polygon points="249.0,485.0 267.0,471.0 285.0,485.0 267.0,499.0" fill="#000"/><polygon points="249.0,496.0 267.0,482.0 285.0,496.0 267.0,510.0" fill="#000"/><polygon points="249.0,505.0 267.0,491.0 285.0,505.0 267.0,519.0" fill="#000"/><polygon points="249.0,515.0 267.0,501.0 285.0,515.0 267.0,529.0" fill="#000"/><polygon points="249.0,527.0 267.0,513.0 285.0,527.0 267.0,541.0" fill="#000"/><polygon points="249.0,539.0 267.0,525.0 285.0,539.0 267.0,553.0" fill="#000"/><polygon points="249.0,551.0 267.0,537.0 285.0,551.0 267.0,565.0" fill="#000"/><polygon points="249.0,560.0 267.0,546.0 285.0,560.0 267.0,574.0" fill="#000"/><polygon points="274.0,578.0 286.0,567.0 298.0,578.0 286.0,589.0" fill="#000"/><polygon points="274.0,680.0 286.0,669.0 298.0,680.0 286.0,691.0" fill="#000"/><polyline points="290.0,705.0 300.0,705.0 310.0,705.0 320.0,705.0 330.0,705.0 340.0,705.0 350.0,705.0 360.0,705.0 370.0,705.0 380.0,705.0 390.0,705.0 400.0,705.0 410.0,705.0 420.0,705.0 430.0,705.0 440.0,705.0 450.0,705.0 460.0,705.0 470.0,705.0 480.0,705.0 490.0,705.0 500.0,705.0 510.0,705.0 520.0,705.0 530.0,705.0 540.0,705.0 550.0,705.0 560.0,705.0 570.0,705.0 580.0,705.0 590.0,705.0 600.0,705.0 610.0,705.0 620.0,705.0 630.0,705.0 640.0,705.0 650.0,705.0 660.0,705.0 670.0,705.0 680.0,705.0 703.0,705.0 728.0,705.0 757.5,705.0 778.0,705.0 809.0,705.0 843.0,705.0 865.0,705.0 889.0,705.0 923.6,705.0 941.0,705.0 973.0,705.0 999.0,705.0 1028.0,705.0 1081.0,717.0 1101.0,717.0 1136.0,717.0" fill="none" stroke="#111" stroke-width="6" stroke-linejoin="round" /><ellipse cx="290.0" cy="705.0" rx="8.5" ry="12.5" fill="#8a8a8a" stroke="#111" stroke-width="7"/><ellipse cx="300.0" cy="705.0" rx="8.5" ry="12.5" fill="#8a8a8a" stroke="#111" stroke-width="7"/><ellipse cx="310.0" cy="705.0" rx="8.5" ry="12.5" fill="#8a8a8a" stroke="#111" stroke-width="7"/><ellipse cx="320.0" cy="705.0" rx="8.5" ry="12.5" fill="#8a8a8a" stroke="#111" stroke-width="7"/><ellipse cx="330.0" cy="705.0" rx="8.5" ry="12.5" fill="#8a8a8a" stroke="#111" stroke-width="7"/><ellipse cx="340.0" cy="705.0" rx="8.5" ry="12.5" fill="#8a8a8a" stroke="#111" stroke-width="7"/><ellipse cx="350.0" cy="705.0" rx="8.5" ry="12.5" fill="#8a8a8a" stroke="#111" stroke-width="7"/><ellipse cx="360.0" cy="705.0" rx="8.5" ry="12.5" fill="#8a8a8a" stroke="#111" stroke-width="7"/><ellipse cx="370.0" cy="705.0" rx="8.5" ry="12.5" fill="#8a8a8a" stroke="#111" stroke-width="7"/><ellipse cx="380.0" cy="705.0" rx="8.5" ry="12.5" fill="#8a8a8a" stroke="#111" stroke-width="7"/><ellipse cx="390.0" cy="705.0" rx="8.5" ry="12.5" fill="#8a8a8a" stroke="#111" stroke-width="7"/><ellipse cx="400.0" cy="705.0" rx="8.5" ry="12.5" fill="#8a8a8a" stroke="#111" stroke-width="7"/><ellipse cx="410.0" cy="705.0" rx="8.5" ry="12.5" fill="#8a8a8a" stroke="#111" stroke-width="7"/><ellipse cx="420.0" cy="705.0" rx="8.5" ry="12.5" fill="#8a8a8a" stroke="#111" stroke-width="7"/><ellipse cx="430.0" cy="705.0" rx="8.5" ry="12.5" fill="#8a8a8a" stroke="#111" stroke-width="7"/><ellipse cx="440.0" cy="705.0" rx="8.5" ry="12.5" fill="#8a8a8a" stroke="#111" stroke-width="7"/><ellipse cx="450.0" cy="705.0" rx="8.5" ry="12.5" fill="#8a8a8a" stroke="#111" stroke-width="7"/><ellipse cx="460.0" cy="705.0" rx="8.5" ry="12.5" fill="#8a8a8a" stroke="#111" stroke-width="7"/><ellipse cx="470.0" cy="705.0" rx="8.5" ry="12.5" fill="#8a8a8a" stroke="#111" stroke-width="7"/><ellipse cx="480.0" cy="705.0" rx="8.5" ry="12.5" fill="#8a8a8a" stroke="#111" stroke-width="7"/><ellipse cx="490.0" cy="705.0" rx="8.5" ry="12.5" fill="#8a8a8a" stroke="#111" stroke-width="7"/><ellipse cx="500.0" cy="705.0" rx="8.5" ry="12.5" fill="#8a8a8a" stroke="#111" stroke-width="7"/><ellipse cx="510.0" cy="705.0" rx="8.5" ry="12.5" fill="#8a8a8a" stroke="#111" stroke-width="7"/><ellipse cx="520.0" cy="705.0" rx="8.5" ry="12.5" fill="#8a8a8a" stroke="#111" stroke-width="7"/><ellipse cx="530.0" cy="705.0" rx="8.5" ry="12.5" fill="#8a8a8a" stroke="#111" stroke-width="7"/><ellipse cx="540.0" cy="705.0" rx="8.5" ry="12.5" fill="#8a8a8a" stroke="#111" stroke-width="7"/><ellipse cx="550.0" cy="705.0" rx="8.5" ry="12.5" fill="#8a8a8a" stroke="#111" stroke-width="7"/><ellipse cx="560.0" cy="705.0" rx="8.5" ry="12.5" fill="#8a8a8a" stroke="#111" stroke-width="7"/><ellipse cx="570.0" cy="705.0" rx="8.5" ry="12.5" fill="#8a8a8a" stroke="#111" stroke-width="7"/><ellipse cx="580.0" cy="705.0" rx="8.5" ry="12.5" fill="#8a8a8a" stroke="#111" stroke-width="7"/><ellipse cx="590.0" cy="705.0" rx="8.5" ry="12.5" fill="#8a8a8a" stroke="#111" stroke-width="7"/><ellipse cx="600.0" cy="705.0" rx="8.5" ry="12.5" fill="#8a8a8a" stroke="#111" stroke-width="7"/><ellipse cx="610.0" cy="705.0" rx="8.5" ry="12.5" fill="#8a8a8a" stroke="#111" stroke-width="7"/><ellipse cx="620.0" cy="705.0" rx="8.5" ry="12.5" fill="#8a8a8a" stroke="#111" stroke-width="7"/><ellipse cx="630.0" cy="705.0" rx="8.5" ry="12.5" fill="#8a8a8a" stroke="#111" stroke-width="7"/><ellipse cx="640.0" cy="705.0" rx="8.5" ry="12.5" fill="#8a8a8a" stroke="#111" stroke-width="7"/><ellipse cx="650.0" cy="705.0" rx="8.5" ry="12.5" fill="#8a8a8a" stroke="#111" stroke-width="7"/><ellipse cx="660.0" cy="705.0" rx="8.5" ry="12.5" fill="#8a8a8a" stroke="#111" stroke-width="7"/><ellipse cx="670.0" cy="705.0" rx="8.5" ry="12.5" fill="#8a8a8a" stroke="#111" stroke-width="7"/><ellipse cx="680.0" cy="705.0" rx="8.5" ry="12.5" fill="#8a8a8a" stroke="#111" stroke-width="7"/><ellipse cx="703.0" cy="705.0" rx="8.5" ry="12.5" fill="#e0e0e0" stroke="#111" stroke-width="7"/><ellipse cx="728.0" cy="705.0" rx="8.5" ry="12.5" fill="#e0e0e0" stroke="#111" stroke-width="7"/><ellipse cx="757.5" cy="705.0" rx="8.5" ry="12.5" fill="#e0e0e0" stroke="#111" stroke-width="7"/><ellipse cx="778.0" cy="705.0" rx="8.5" ry="12.5" fill="#e0e0e0" stroke="#111" stroke-width="7"/><ellipse cx="809.0" cy="705.0" rx="8.5" ry="12.5" fill="#e0e0e0" stroke="#111" stroke-width="7"/><ellipse cx="843.0" cy="705.0" rx="8.5" ry="12.5" fill="#e0e0e0" stroke="#111" stroke-width="7"/><ellipse cx="865.0" cy="705.0" rx="8.5" ry="12.5" fill="#e0e0e0" stroke="#111" stroke-width="7"/><ellipse cx="889.0" cy="705.0" rx="8.5" ry="12.5" fill="#e0e0e0" stroke="#111" stroke-width="7"/><ellipse cx="923.6" cy="705.0" rx="8.5" ry="12.5" fill="#e0e0e0" stroke="#111" stroke-width="7"/><ellipse cx="941.0" cy="705.0" rx="8.5" ry="12.5" fill="#e0e0e0" stroke="#111" stroke-width="7"/><ellipse cx="973.0" cy="705.0" rx="8.5" ry="12.5" fill="#e0e0e0" stroke="#111" stroke-width="7"/><ellipse cx="999.0" cy="705.0" rx="8.5" ry="12.5" fill="#e0e0e0" stroke="#111" stroke-width="7"/><ellipse cx="1028.0" cy="705.0" rx="8.5" ry="12.5" fill="#e0e0e0" stroke="#111" stroke-width="7"/><ellipse cx="1081.0" cy="717.0" rx="8.5" ry="12.5" fill="#e0e0e0" stroke="#111" stroke-width="7"/><ellipse cx="1101.0" cy="717.0" rx="8.5" ry="12.5" fill="#e0e0e0" stroke="#111" stroke-width="7"/><ellipse cx="1136.0" cy="717.0" rx="8.5" ry="12.5" fill="#e0e0e0" stroke="#111" stroke-width="7"/><polygon points="428.5,690.0 442.5,676.0 456.5,690.0 442.5,704.0" fill="#000"/><polygon points="662.0,686.0 676.0,672.0 690.0,686.0 676.0,700.0" fill="#000"/><polyline points="268.0,642.0 297.0,632.0 456.5,487.5 1137.0,442.0" fill="none" stroke="#00c3ea" stroke-width="6" stroke-linejoin="round" /><polyline points="268.0,595.0 297.0,638.0 456.5,552.5 1137.0,423.0" fill="none" stroke="#fba81d" stroke-width="6" stroke-linejoin="round" /><polyline points="268.0,629.0 297.0,653.0 456.5,521.0 1137.0,409.5" fill="none" stroke="#9457ab" stroke-width="6" stroke-linejoin="round" /><rect x="254.00" y="628.00" width="28.00" height="28.00" fill="#00c3ea"/><rect x="283.00" y="618.00" width="28.00" height="28.00" fill="#00c3ea"/><rect x="442.50" y="473.50" width="28.00" height="28.00" fill="#00c3ea"/><rect x="1123.00" y="428.00" width="28.00" height="28.00" fill="#00c3ea"/><rect x="254.00" y="581.00" width="28.00" height="28.00" fill="#fba81d"/><rect x="283.00" y="624.00" width="28.00" height="28.00" fill="#fba81d"/><rect x="442.50" y="538.50" width="28.00" height="28.00" fill="#fba81d"/><rect x="1123.00" y="409.00" width="28.00" height="28.00" fill="#fba81d"/><rect x="254.00" y="615.00" width="28.00" height="28.00" fill="#9457ab"/><rect x="283.00" y="639.00" width="28.00" height="28.00" fill="#9457ab"/><rect x="442.50" y="507.00" width="28.00" height="28.00" fill="#9457ab"/><rect x="1123.00" y="395.50" width="28.00" height="28.00" fill="#9457ab"/><polyline points="259.0,884.9 263.5,954.6 267.7,862.6 272.8,956.2 278.3,846.5 283.6,935.9 287.9,852.8 294.3,930.7 299.0,865.4 305.9,921.2 311.0,872.6 315.2,915.1 320.1,866.0 324.4,923.6 330.9,867.2 336.6,925.1 341.7,857.3 345.9,927.4 350.5,852.3 355.8,915.0 361.6,841.5 366.5,905.6 372.6,834.2 378.3,908.3 384.9,848.8 389.8,902.8 394.1,839.3 400.4,920.1 405.9,834.8 411.9,935.5 417.6,877.2 422.5,937.3 428.3,894.5 433.7,919.1 440.5,899.5 446.5,911.5" fill="none" stroke="#c3181d" stroke-width="7" stroke-linejoin="round" /><polygon points="245.0,884.9 259.0,869.9 273.0,884.9 259.0,899.9" fill="#c3181d"/><polygon points="249.5,954.6 263.5,939.6 277.5,954.6 263.5,969.6" fill="#c3181d"/><polygon points="253.7,862.6 267.7,847.6 281.7,862.6 267.7,877.6" fill="#c3181d"/><polygon points="258.8,956.2 272.8,941.2 286.8,956.2 272.8,971.2" fill="#c3181d"/><polygon points="264.3,846.5 278.3,831.5 292.3,846.5 278.3,861.5" fill="#c3181d"/><polygon points="269.6,935.9 283.6,920.9 297.6,935.9 283.6,950.9" fill="#c3181d"/><polygon points="273.9,852.8 287.9,837.8 301.9,852.8 287.9,867.8" fill="#c3181d"/><polygon points="280.3,930.7 294.3,915.7 308.3,930.7 294.3,945.7" fill="#c3181d"/><polygon points="285.0,865.4 299.0,850.4 313.0,865.4 299.0,880.4" fill="#c3181d"/><polygon points="291.9,921.2 305.9,906.2 319.9,921.2 305.9,936.2" fill="#c3181d"/><polygon points="297.0,872.6 311.0,857.6 325.0,872.6 311.0,887.6" fill="#c3181d"/><polygon points="301.2,915.1 315.2,900.1 329.2,915.1 315.2,930.1" fill="#c3181d"/><polygon points="306.1,866.0 320.1,851.0 334.1,866.0 320.1,881.0" fill="#c3181d"/><polygon points="310.4,923.6 324.4,908.6 338.4,923.6 324.4,938.6" fill="#c3181d"/><polygon points="316.9,867.2 330.9,852.2 344.9,867.2 330.9,882.2" fill="#c3181d"/><polygon points="322.6,925.1 336.6,910.1 350.6,925.1 336.6,940.1" fill="#c3181d"/><polygon points="327.7,857.3 341.7,842.3 355.7,857.3 341.7,872.3" fill="#c3181d"/><polygon points="331.9,927.4 345.9,912.4 359.9,927.4 345.9,942.4" fill="#c3181d"/><polygon points="336.5,852.3 350.5,837.3 364.5,852.3 350.5,867.3" fill="#c3181d"/><polygon points="341.8,915.0 355.8,900.0 369.8,915.0 355.8,930.0" fill="#c3181d"/><polygon points="347.6,841.5 361.6,826.5 375.6,841.5 361.6,856.5" fill="#c3181d"/><polygon points="352.5,905.6 366.5,890.6 380.5,905.6 366.5,920.6" fill="#c3181d"/><polygon points="358.6,834.2 372.6,819.2 386.6,834.2 372.6,849.2" fill="#c3181d"/><polygon points="364.3,908.3 378.3,893.3 392.3,908.3 378.3,923.3" fill="#c3181d"/><polygon points="370.9,848.8 384.9,833.8 398.9,848.8 384.9,863.8" fill="#c3181d"/><polygon points="375.8,902.8 389.8,887.8 403.8,902.8 389.8,917.8" fill="#c3181d"/><polygon points="380.1,839.3 394.1,824.3 408.1,839.3 394.1,854.3" fill="#c3181d"/><polygon points="386.4,920.1 400.4,905.1 414.4,920.1 400.4,935.1" fill="#c3181d"/><polygon points="391.9,834.8 405.9,819.8 419.9,834.8 405.9,849.8" fill="#c3181d"/><polygon points="397.9,935.5 411.9,920.5 425.9,935.5 411.9,950.5" fill="#c3181d"/><polygon points="403.6,877.2 417.6,862.2 431.6,877.2 417.6,892.2" fill="#c3181d"/><polygon points="408.5,937.3 422.5,922.3 436.5,937.3 422.5,952.3" fill="#c3181d"/><polygon points="414.3,894.5 428.3,879.5 442.3,894.5 428.3,909.5" fill="#c3181d"/><polygon points="419.7,919.1 433.7,904.1 447.7,919.1 433.7,934.1" fill="#c3181d"/><polygon points="426.5,899.5 440.5,884.5 454.5,899.5 440.5,914.5" fill="#c3181d"/><polygon points="432.5,911.5 446.5,896.5 460.5,911.5 446.5,926.5" fill="#c3181d"/><polyline points="420.0,890.0 456.5,873.0 445.0,915.0 466.0,914.0 484.0,914.0 500.0,914.0 500.5,860.0 515.6,834.0 528.0,900.0 553.0,845.0 575.0,878.0 598.5,910.0 617.0,862.0 640.0,867.0 661.0,893.0 676.0,888.0 673.3,797.5 687.8,791.6 699.5,817.8 711.0,823.7 731.5,806.2 743.0,887.7 760.6,893.5 778.0,882.0 795.5,890.6 813.0,864.4 827.6,835.3 842.0,870.0 865.4,881.9 894.5,899.4 935.0,916.8 973.0,934.3 996.4,972.0 1022.6,940.0 1048.8,908.0 1136.0,902.3" fill="none" stroke="#c3181d" stroke-width="6" stroke-linejoin="round" /><polygon points="442.5,873.0 456.5,859.0 470.5,873.0 456.5,887.0" fill="#c3181d"/><polygon points="431.0,915.0 445.0,901.0 459.0,915.0 445.0,929.0" fill="#c3181d"/><polygon points="452.0,914.0 466.0,900.0 480.0,914.0 466.0,928.0" fill="#c3181d"/><polygon points="470.0,914.0 484.0,900.0 498.0,914.0 484.0,928.0" fill="#c3181d"/><polygon points="486.0,914.0 500.0,900.0 514.0,914.0 500.0,928.0" fill="#c3181d"/><polygon points="486.5,860.0 500.5,846.0 514.5,860.0 500.5,874.0" fill="#c3181d"/><polygon points="501.6,834.0 515.6,820.0 529.6,834.0 515.6,848.0" fill="#c3181d"/><polygon points="514.0,900.0 528.0,886.0 542.0,900.0 528.0,914.0" fill="#c3181d"/><polygon points="539.0,845.0 553.0,831.0 567.0,845.0 553.0,859.0" fill="#c3181d"/><polygon points="561.0,878.0 575.0,864.0 589.0,878.0 575.0,892.0" fill="#c3181d"/><polygon points="584.5,910.0 598.5,896.0 612.5,910.0 598.5,924.0" fill="#c3181d"/><polygon points="603.0,862.0 617.0,848.0 631.0,862.0 617.0,876.0" fill="#c3181d"/><polygon points="626.0,867.0 640.0,853.0 654.0,867.0 640.0,881.0" fill="#c3181d"/><polygon points="647.0,893.0 661.0,879.0 675.0,893.0 661.0,907.0" fill="#c3181d"/><polygon points="662.0,888.0 676.0,874.0 690.0,888.0 676.0,902.0" fill="#c3181d"/><polygon points="659.3,797.5 673.3,783.5 687.3,797.5 673.3,811.5" fill="#c3181d"/><polygon points="673.8,791.6 687.8,777.6 701.8,791.6 687.8,805.6" fill="#c3181d"/><polygon points="685.5,817.8 699.5,803.8 713.5,817.8 699.5,831.8" fill="#c3181d"/><polygon points="697.0,823.7 711.0,809.7 725.0,823.7 711.0,837.7" fill="#c3181d"/><polygon points="717.5,806.2 731.5,792.2 745.5,806.2 731.5,820.2" fill="#c3181d"/><polygon points="729.0,887.7 743.0,873.7 757.0,887.7 743.0,901.7" fill="#c3181d"/><polygon points="746.6,893.5 760.6,879.5 774.6,893.5 760.6,907.5" fill="#c3181d"/><polygon points="764.0,882.0 778.0,868.0 792.0,882.0 778.0,896.0" fill="#c3181d"/><polygon points="781.5,890.6 795.5,876.6 809.5,890.6 795.5,904.6" fill="#c3181d"/><polygon points="799.0,864.4 813.0,850.4 827.0,864.4 813.0,878.4" fill="#c3181d"/><polygon points="813.6,835.3 827.6,821.3 841.6,835.3 827.6,849.3" fill="#c3181d"/><polygon points="828.0,870.0 842.0,856.0 856.0,870.0 842.0,884.0" fill="#c3181d"/><polygon points="851.4,881.9 865.4,867.9 879.4,881.9 865.4,895.9" fill="#c3181d"/><polygon points="880.5,899.4 894.5,885.4 908.5,899.4 894.5,913.4" fill="#c3181d"/><polygon points="921.0,916.8 935.0,902.8 949.0,916.8 935.0,930.8" fill="#c3181d"/><polygon points="959.0,934.3 973.0,920.3 987.0,934.3 973.0,948.3" fill="#c3181d"/><polygon points="982.4,972.0 996.4,958.0 1010.4,972.0 996.4,986.0" fill="#c3181d"/><polygon points="1008.6,940.0 1022.6,926.0 1036.6,940.0 1022.6,954.0" fill="#c3181d"/><polygon points="1034.8,908.0 1048.8,894.0 1062.8,908.0 1048.8,922.0" fill="#c3181d"/><polygon points="1122.0,902.3 1136.0,888.3 1150.0,902.3 1136.0,916.3" fill="#c3181d"/><polyline points="267.0,1529.0 267.0,1857.0 280.0,1895.0 300.0,1925.0" fill="none" stroke="#111" stroke-width="6" stroke-linejoin="round" /><polygon points="249.0,1529.0 267.0,1515.0 285.0,1529.0 267.0,1543.0" fill="#000"/><polygon points="249.0,1548.0 267.0,1534.0 285.0,1548.0 267.0,1562.0" fill="#000"/><polygon points="249.0,1597.0 267.0,1583.0 285.0,1597.0 267.0,1611.0" fill="#000"/><polygon points="249.0,1741.0 267.0,1727.0 285.0,1741.0 267.0,1755.0" fill="#000"/><polygon points="249.0,1802.0 267.0,1788.0 285.0,1802.0 267.0,1816.0" fill="#000"/><polygon points="249.0,1822.0 267.0,1808.0 285.0,1822.0 267.0,1836.0" fill="#000"/><polygon points="249.0,1842.0 267.0,1828.0 285.0,1842.0 267.0,1856.0" fill="#000"/><polygon points="249.0,1857.0 267.0,1843.0 285.0,1857.0 267.0,1871.0" fill="#000"/><polyline points="300.0,1929.0 310.0,1929.0 320.0,1929.0 330.0,1929.0 340.0,1929.0 350.0,1929.0 360.0,1929.0 370.0,1929.0 380.0,1929.0 390.0,1929.0 400.0,1929.0 410.0,1929.0 420.0,1929.0 430.0,1929.0 440.0,1929.0 450.0,1929.0 460.0,1929.0 470.0,1929.0 480.0,1929.0 490.0,1929.0 500.0,1929.0 529.0,1929.0 548.0,1929.0 569.0,1929.0 590.0,1929.0 613.0,1929.0 636.0,1929.0 656.5,1929.0 680.5,1929.0 706.0,1929.0 730.0,1929.0 754.0,1929.0 805.5,1929.0 826.0,1929.0 846.6,1929.0 872.0,1929.0 897.0,1929.0 921.0,1929.0 945.0,1929.0 968.0,1929.0 1003.0,1929.0 1043.6,1929.0 1072.0,1929.0 1100.7,1929.0" fill="none" stroke="#111" stroke-width="6" stroke-linejoin="round" /><ellipse cx="300.0" cy="1929.0" rx="8.5" ry="12.5" fill="#8a8a8a" stroke="#111" stroke-width="7"/><ellipse cx="310.0" cy="1929.0" rx="8.5" ry="12.5" fill="#8a8a8a" stroke="#111" stroke-width="7"/><ellipse cx="320.0" cy="1929.0" rx="8.5" ry="12.5" fill="#8a8a8a" stroke="#111" stroke-width="7"/><ellipse cx="330.0" cy="1929.0" rx="8.5" ry="12.5" fill="#8a8a8a" stroke="#111" stroke-width="7"/><ellipse cx="340.0" cy="1929.0" rx="8.5" ry="12.5" fill="#8a8a8a" stroke="#111" stroke-width="7"/><ellipse cx="350.0" cy="1929.0" rx="8.5" ry="12.5" fill="#8a8a8a" stroke="#111" stroke-width="7"/><ellipse cx="360.0" cy="1929.0" rx="8.5" ry="12.5" fill="#8a8a8a" stroke="#111" stroke-width="7"/><ellipse cx="370.0" cy="1929.0" rx="8.5" ry="12.5" fill="#8a8a8a" stroke="#111" stroke-width="7"/><ellipse cx="380.0" cy="1929.0" rx="8.5" ry="12.5" fill="#8a8a8a" stroke="#111" stroke-width="7"/><ellipse cx="390.0" cy="1929.0" rx="8.5" ry="12.5" fill="#8a8a8a" stroke="#111" stroke-width="7"/><ellipse cx="400.0" cy="1929.0" rx="8.5" ry="12.5" fill="#8a8a8a" stroke="#111" stroke-width="7"/><ellipse cx="410.0" cy="1929.0" rx="8.5" ry="12.5" fill="#8a8a8a" stroke="#111" stroke-width="7"/><ellipse cx="420.0" cy="1929.0" rx="8.5" ry="12.5" fill="#8a8a8a" stroke="#111" stroke-width="7"/><ellipse cx="430.0" cy="1929.0" rx="8.5" ry="12.5" fill="#8a8a8a" stroke="#111" stroke-width="7"/><ellipse cx="440.0" cy="1929.0" rx="8.5" ry="12.5" fill="#8a8a8a" stroke="#111" stroke-width="7"/><ellipse cx="450.0" cy="1929.0" rx="8.5" ry="12.5" fill="#8a8a8a" stroke="#111" stroke-width="7"/><ellipse cx="460.0" cy="1929.0" rx="8.5" ry="12.5" fill="#8a8a8a" stroke="#111" stroke-width="7"/><ellipse cx="470.0" cy="1929.0" rx="8.5" ry="12.5" fill="#8a8a8a" stroke="#111" stroke-width="7"/><ellipse cx="480.0" cy="1929.0" rx="8.5" ry="12.5" fill="#8a8a8a" stroke="#111" stroke-width="7"/><ellipse cx="490.0" cy="1929.0" rx="8.5" ry="12.5" fill="#8a8a8a" stroke="#111" stroke-width="7"/><ellipse cx="500.0" cy="1929.0" rx="8.5" ry="12.5" fill="#8a8a8a" stroke="#111" stroke-width="7"/><ellipse cx="529.0" cy="1929.0" rx="8.5" ry="12.5" fill="#e0e0e0" stroke="#111" stroke-width="7"/><ellipse cx="548.0" cy="1929.0" rx="8.5" ry="12.5" fill="#e0e0e0" stroke="#111" stroke-width="7"/><ellipse cx="569.0" cy="1929.0" rx="8.5" ry="12.5" fill="#e0e0e0" stroke="#111" stroke-width="7"/><ellipse cx="590.0" cy="1929.0" rx="8.5" ry="12.5" fill="#e0e0e0" stroke="#111" stroke-width="7"/><ellipse cx="613.0" cy="1929.0" rx="8.5" ry="12.5" fill="#e0e0e0" stroke="#111" stroke-width="7"/><ellipse cx="636.0" cy="1929.0" rx="8.5" ry="12.5" fill="#e0e0e0" stroke="#111" stroke-width="7"/><ellipse cx="656.5" cy="1929.0" rx="8.5" ry="12.5" fill="#e0e0e0" stroke="#111" stroke-width="7"/><ellipse cx="680.5" cy="1929.0" rx="8.5" ry="12.5" fill="#e0e0e0" stroke="#111" stroke-width="7"/><ellipse cx="706.0" cy="1929.0" rx="8.5" ry="12.5" fill="#e0e0e0" stroke="#111" stroke-width="7"/><ellipse cx="730.0" cy="1929.0" rx="8.5" ry="12.5" fill="#e0e0e0" stroke="#111" stroke-width="7"/><ellipse cx="754.0" cy="1929.0" rx="8.5" ry="12.5" fill="#e0e0e0" stroke="#111" stroke-width="7"/><ellipse cx="805.5" cy="1929.0" rx="8.5" ry="12.5" fill="#e0e0e0" stroke="#111" stroke-width="7"/><ellipse cx="826.0" cy="1929.0" rx="8.5" ry="12.5" fill="#e0e0e0" stroke="#111" stroke-width="7"/><ellipse cx="846.6" cy="1929.0" rx="8.5" ry="12.5" fill="#e0e0e0" stroke="#111" stroke-width="7"/><ellipse cx="872.0" cy="1929.0" rx="8.5" ry="12.5" fill="#e0e0e0" stroke="#111" stroke-width="7"/><ellipse cx="897.0" cy="1929.0" rx="8.5" ry="12.5" fill="#e0e0e0" stroke="#111" stroke-width="7"/><ellipse cx="921.0" cy="1929.0" rx="8.5" ry="12.5" fill="#e0e0e0" stroke="#111" stroke-width="7"/><ellipse cx="945.0" cy="1929.0" rx="8.5" ry="12.5" fill="#e0e0e0" stroke="#111" stroke-width="7"/><ellipse cx="968.0" cy="1929.0" rx="8.5" ry="12.5" fill="#e0e0e0" stroke="#111" stroke-width="7"/><ellipse cx="1003.0" cy="1929.0" rx="8.5" ry="12.5" fill="#e0e0e0" stroke="#111" stroke-width="7"/><ellipse cx="1043.6" cy="1929.0" rx="8.5" ry="12.5" fill="#e0e0e0" stroke="#111" stroke-width="7"/><ellipse cx="1072.0" cy="1929.0" rx="8.5" ry="12.5" fill="#e0e0e0" stroke="#111" stroke-width="7"/><ellipse cx="1100.7" cy="1929.0" rx="8.5" ry="12.5" fill="#e0e0e0" stroke="#111" stroke-width="7"/><polyline points="265.5,1937.5 309.0,1944.0 659.0,1912.0 1100.0,1815.0" fill="none" stroke="#00c3ea" stroke-width="6" stroke-linejoin="round" /><polyline points="265.5,1924.5 309.0,1928.0 659.0,1903.0 1100.0,1813.0" fill="none" stroke="#fba81d" stroke-width="6" stroke-linejoin="round" /><polyline points="265.5,1887.0 309.0,1850.0 659.0,1856.0 1100.0,1834.0" fill="none" stroke="#9457ab" stroke-width="6" stroke-linejoin="round" /><rect x="251.50" y="1923.50" width="28.00" height="28.00" fill="#00c3ea"/><rect x="295.00" y="1930.00" width="28.00" height="28.00" fill="#00c3ea"/><rect x="645.00" y="1898.00" width="28.00" height="28.00" fill="#00c3ea"/><rect x="1086.00" y="1801.00" width="28.00" height="28.00" fill="#00c3ea"/><rect x="251.50" y="1910.50" width="28.00" height="28.00" fill="#fba81d"/><rect x="295.00" y="1914.00" width="28.00" height="28.00" fill="#fba81d"/><rect x="645.00" y="1889.00" width="28.00" height="28.00" fill="#fba81d"/><rect x="1086.00" y="1799.00" width="28.00" height="28.00" fill="#fba81d"/><rect x="251.50" y="1873.00" width="28.00" height="28.00" fill="#9457ab"/><rect x="295.00" y="1836.00" width="28.00" height="28.00" fill="#9457ab"/><rect x="645.00" y="1842.00" width="28.00" height="28.00" fill="#9457ab"/><rect x="1086.00" y="1820.00" width="28.00" height="28.00" fill="#9457ab"/><polyline points="258.0,2250.0 266.0,2230.0 275.0,2262.0 284.0,2222.0 293.0,2268.0 302.0,2215.0 310.0,2250.0 318.0,2212.0 328.0,2262.0 338.0,2218.0 345.0,2270.0 355.0,2280.0 362.0,2230.0 372.0,2215.0 380.0,2240.0 388.0,2258.0 397.0,2232.0 410.0,2225.0 422.0,2215.0 432.0,2235.0 445.0,2225.0 458.0,2240.0 470.0,2218.0 482.0,2235.0 495.0,2226.0 505.0,2240.0 512.0,2194.0 522.0,2228.0 537.0,2235.0 548.0,2228.0" fill="none" stroke="#c3181d" stroke-width="8" stroke-linejoin="round" /><polygon points="244.0,2250.0 258.0,2235.0 272.0,2250.0 258.0,2265.0" fill="#c3181d"/><polygon points="252.0,2230.0 266.0,2215.0 280.0,2230.0 266.0,2245.0" fill="#c3181d"/><polygon points="261.0,2262.0 275.0,2247.0 289.0,2262.0 275.0,2277.0" fill="#c3181d"/><polygon points="270.0,2222.0 284.0,2207.0 298.0,2222.0 284.0,2237.0" fill="#c3181d"/><polygon points="279.0,2268.0 293.0,2253.0 307.0,2268.0 293.0,2283.0" fill="#c3181d"/><polygon points="288.0,2215.0 302.0,2200.0 316.0,2215.0 302.0,2230.0" fill="#c3181d"/><polygon points="296.0,2250.0 310.0,2235.0 324.0,2250.0 310.0,2265.0" fill="#c3181d"/><polygon points="304.0,2212.0 318.0,2197.0 332.0,2212.0 318.0,2227.0" fill="#c3181d"/><polygon points="314.0,2262.0 328.0,2247.0 342.0,2262.0 328.0,2277.0" fill="#c3181d"/><polygon points="324.0,2218.0 338.0,2203.0 352.0,2218.0 338.0,2233.0" fill="#c3181d"/><polygon points="331.0,2270.0 345.0,2255.0 359.0,2270.0 345.0,2285.0" fill="#c3181d"/><polygon points="341.0,2280.0 355.0,2265.0 369.0,2280.0 355.0,2295.0" fill="#c3181d"/><polygon points="348.0,2230.0 362.0,2215.0 376.0,2230.0 362.0,2245.0" fill="#c3181d"/><polygon points="358.0,2215.0 372.0,2200.0 386.0,2215.0 372.0,2230.0" fill="#c3181d"/><polygon points="366.0,2240.0 380.0,2225.0 394.0,2240.0 380.0,2255.0" fill="#c3181d"/><polygon points="374.0,2258.0 388.0,2243.0 402.0,2258.0 388.0,2273.0" fill="#c3181d"/><polygon points="383.0,2232.0 397.0,2217.0 411.0,2232.0 397.0,2247.0" fill="#c3181d"/><polygon points="396.0,2225.0 410.0,2210.0 424.0,2225.0 410.0,2240.0" fill="#c3181d"/><polygon points="408.0,2215.0 422.0,2200.0 436.0,2215.0 422.0,2230.0" fill="#c3181d"/><polygon points="418.0,2235.0 432.0,2220.0 446.0,2235.0 432.0,2250.0" fill="#c3181d"/><polygon points="431.0,2225.0 445.0,2210.0 459.0,2225.0 445.0,2240.0" fill="#c3181d"/><polygon points="444.0,2240.0 458.0,2225.0 472.0,2240.0 458.0,2255.0" fill="#c3181d"/><polygon points="456.0,2218.0 470.0,2203.0 484.0,2218.0 470.0,2233.0" fill="#c3181d"/><polygon points="468.0,2235.0 482.0,2220.0 496.0,2235.0 482.0,2250.0" fill="#c3181d"/><polygon points="481.0,2226.0 495.0,2211.0 509.0,2226.0 495.0,2241.0" fill="#c3181d"/><polygon points="491.0,2240.0 505.0,2225.0 519.0,2240.0 505.0,2255.0" fill="#c3181d"/><polygon points="498.0,2194.0 512.0,2179.0 526.0,2194.0 512.0,2209.0" fill="#c3181d"/><polygon points="508.0,2228.0 522.0,2213.0 536.0,2228.0 522.0,2243.0" fill="#c3181d"/><polygon points="523.0,2235.0 537.0,2220.0 551.0,2235.0 537.0,2250.0" fill="#c3181d"/><polygon points="534.0,2228.0 548.0,2213.0 562.0,2228.0 548.0,2243.0" fill="#c3181d"/><polyline points="548.0,2228.0 553.0,2207.0 568.5,2227.6 589.0,2220.0 604.5,2217.3 620.0,2202.0 640.4,2243.0 655.8,2214.8 666.0,2207.0 684.0,2153.0 704.0,2242.7 733.7,2205.0 755.0,2215.8 792.7,2183.7 808.8,2229.3 846.3,2226.6 870.5,2224.0 905.3,2234.6 937.5,2207.8 969.7,2245.4 1004.6,2210.5 1044.8,2232.0 1074.4,2221.2 1103.9,2205.0" fill="none" stroke="#c3181d" stroke-width="6" stroke-linejoin="round" /><polygon points="539.0,2207.0 553.0,2193.0 567.0,2207.0 553.0,2221.0" fill="#c3181d"/><polygon points="554.5,2227.6 568.5,2213.6 582.5,2227.6 568.5,2241.6" fill="#c3181d"/><polygon points="575.0,2220.0 589.0,2206.0 603.0,2220.0 589.0,2234.0" fill="#c3181d"/><polygon points="590.5,2217.3 604.5,2203.3 618.5,2217.3 604.5,2231.3" fill="#c3181d"/><polygon points="606.0,2202.0 620.0,2188.0 634.0,2202.0 620.0,2216.0" fill="#c3181d"/><polygon points="626.4,2243.0 640.4,2229.0 654.4,2243.0 640.4,2257.0" fill="#c3181d"/><polygon points="641.8,2214.8 655.8,2200.8 669.8,2214.8 655.8,2228.8" fill="#c3181d"/><polygon points="652.0,2207.0 666.0,2193.0 680.0,2207.0 666.0,2221.0" fill="#c3181d"/><polygon points="670.0,2153.0 684.0,2139.0 698.0,2153.0 684.0,2167.0" fill="#c3181d"/><polygon points="690.0,2242.7 704.0,2228.7 718.0,2242.7 704.0,2256.7" fill="#c3181d"/><polygon points="719.7,2205.0 733.7,2191.0 747.7,2205.0 733.7,2219.0" fill="#c3181d"/><polygon points="741.0,2215.8 755.0,2201.8 769.0,2215.8 755.0,2229.8" fill="#c3181d"/><polygon points="778.7,2183.7 792.7,2169.7 806.7,2183.7 792.7,2197.7" fill="#c3181d"/><polygon points="794.8,2229.3 808.8,2215.3 822.8,2229.3 808.8,2243.3" fill="#c3181d"/><polygon points="832.3,2226.6 846.3,2212.6 860.3,2226.6 846.3,2240.6" fill="#c3181d"/><polygon points="856.5,2224.0 870.5,2210.0 884.5,2224.0 870.5,2238.0" fill="#c3181d"/><polygon points="891.3,2234.6 905.3,2220.6 919.3,2234.6 905.3,2248.6" fill="#c3181d"/><polygon points="923.5,2207.8 937.5,2193.8 951.5,2207.8 937.5,2221.8" fill="#c3181d"/><polygon points="955.7,2245.4 969.7,2231.4 983.7,2245.4 969.7,2259.4" fill="#c3181d"/><polygon points="990.6,2210.5 1004.6,2196.5 1018.6,2210.5 1004.6,2224.5" fill="#c3181d"/><polygon points="1030.8,2232.0 1044.8,2218.0 1058.8,2232.0 1044.8,2246.0" fill="#c3181d"/><polygon points="1060.4,2221.2 1074.4,2207.2 1088.4,2221.2 1074.4,2235.2" fill="#c3181d"/><polygon points="1089.9,2205.0 1103.9,2191.0 1117.9,2205.0 1103.9,2219.0" fill="#c3181d"/><polyline points="267.0,2760.0 267.0,3016.0 277.0,3127.0 280.0,3175.0 290.0,3189.0" fill="none" stroke="#111" stroke-width="6" stroke-linejoin="round" /><polygon points="249.0,2760.0 267.0,2746.0 285.0,2760.0 267.0,2774.0" fill="#000"/><polygon points="249.0,2841.0 267.0,2827.0 285.0,2841.0 267.0,2855.0" fill="#000"/><polygon points="249.0,2901.0 267.0,2887.0 285.0,2901.0 267.0,2915.0" fill="#000"/><polygon points="249.0,2916.0 267.0,2902.0 285.0,2916.0 267.0,2930.0" fill="#000"/><polygon points="249.0,2928.0 267.0,2914.0 285.0,2928.0 267.0,2942.0" fill="#000"/><polygon points="249.0,2947.0 267.0,2933.0 285.0,2947.0 267.0,2961.0" fill="#000"/><polygon points="249.0,3016.0 267.0,3002.0 285.0,3016.0 267.0,3030.0" fill="#000"/><polyline points="285.0,3189.0 295.0,3189.0 305.0,3189.0 315.0,3189.0 325.0,3189.0 335.0,3189.0 345.0,3189.0 355.0,3189.0 365.0,3189.0 375.0,3189.0 385.0,3189.0 395.0,3189.0 405.0,3189.0 415.0,3189.0 425.0,3189.0 435.0,3189.0 445.0,3189.0 455.0,3189.0 465.0,3189.0 475.0,3189.0 485.0,3189.0 495.0,3189.0 505.0,3189.0 515.0,3189.0 525.0,3189.0 535.0,3189.0 548.0,3189.0 566.0,3189.0 585.0,3189.0 602.5,3189.0 622.0,3189.0 639.0,3189.0 658.7,3189.0 678.0,3189.0 697.6,3189.0 717.0,3189.0 740.0,3189.0 772.0,3189.0 805.0,3189.0 836.0,3189.0 872.0,3189.0 903.0,3189.0 933.7,3189.0 962.0,3201.4 990.0,3201.4 1021.0,3201.4 1052.0,3201.4 1082.7,3201.4 1105.8,3201.4 1134.0,3201.4" fill="none" stroke="#111" stroke-width="6" stroke-linejoin="round" /><ellipse cx="285.0" cy="3189.0" rx="8.5" ry="12.5" fill="#8a8a8a" stroke="#111" stroke-width="7"/><ellipse cx="295.0" cy="3189.0" rx="8.5" ry="12.5" fill="#8a8a8a" stroke="#111" stroke-width="7"/><ellipse cx="305.0" cy="3189.0" rx="8.5" ry="12.5" fill="#8a8a8a" stroke="#111" stroke-width="7"/><ellipse cx="315.0" cy="3189.0" rx="8.5" ry="12.5" fill="#8a8a8a" stroke="#111" stroke-width="7"/><ellipse cx="325.0" cy="3189.0" rx="8.5" ry="12.5" fill="#8a8a8a" stroke="#111" stroke-width="7"/><ellipse cx="335.0" cy="3189.0" rx="8.5" ry="12.5" fill="#8a8a8a" stroke="#111" stroke-width="7"/><ellipse cx="345.0" cy="3189.0" rx="8.5" ry="12.5" fill="#8a8a8a" stroke="#111" stroke-width="7"/><ellipse cx="355.0" cy="3189.0" rx="8.5" ry="12.5" fill="#8a8a8a" stroke="#111" stroke-width="7"/><ellipse cx="365.0" cy="3189.0" rx="8.5" ry="12.5" fill="#8a8a8a" stroke="#111" stroke-width="7"/><ellipse cx="375.0" cy="3189.0" rx="8.5" ry="12.5" fill="#8a8a8a" stroke="#111" stroke-width="7"/><ellipse cx="385.0" cy="3189.0" rx="8.5" ry="12.5" fill="#8a8a8a" stroke="#111" stroke-width="7"/><ellipse cx="395.0" cy="3189.0" rx="8.5" ry="12.5" fill="#8a8a8a" stroke="#111" stroke-width="7"/><ellipse cx="405.0" cy="3189.0" rx="8.5" ry="12.5" fill="#8a8a8a" stroke="#111" stroke-width="7"/><ellipse cx="415.0" cy="3189.0" rx="8.5" ry="12.5" fill="#8a8a8a" stroke="#111" stroke-width="7"/><ellipse cx="425.0" cy="3189.0" rx="8.5" ry="12.5" fill="#8a8a8a" stroke="#111" stroke-width="7"/><ellipse cx="435.0" cy="3189.0" rx="8.5" ry="12.5" fill="#8a8a8a" stroke="#111" stroke-width="7"/><ellipse cx="445.0" cy="3189.0" rx="8.5" ry="12.5" fill="#8a8a8a" stroke="#111" stroke-width="7"/><ellipse cx="455.0" cy="3189.0" rx="8.5" ry="12.5" fill="#8a8a8a" stroke="#111" stroke-width="7"/><ellipse cx="465.0" cy="3189.0" rx="8.5" ry="12.5" fill="#8a8a8a" stroke="#111" stroke-width="7"/><ellipse cx="475.0" cy="3189.0" rx="8.5" ry="12.5" fill="#8a8a8a" stroke="#111" stroke-width="7"/><ellipse cx="485.0" cy="3189.0" rx="8.5" ry="12.5" fill="#8a8a8a" stroke="#111" stroke-width="7"/><ellipse cx="495.0" cy="3189.0" rx="8.5" ry="12.5" fill="#8a8a8a" stroke="#111" stroke-width="7"/><ellipse cx="505.0" cy="3189.0" rx="8.5" ry="12.5" fill="#8a8a8a" stroke="#111" stroke-width="7"/><ellipse cx="515.0" cy="3189.0" rx="8.5" ry="12.5" fill="#8a8a8a" stroke="#111" stroke-width="7"/><ellipse cx="525.0" cy="3189.0" rx="8.5" ry="12.5" fill="#8a8a8a" stroke="#111" stroke-width="7"/><ellipse cx="535.0" cy="3189.0" rx="8.5" ry="12.5" fill="#8a8a8a" stroke="#111" stroke-width="7"/><ellipse cx="548.0" cy="3189.0" rx="8.5" ry="12.5" fill="#e0e0e0" stroke="#111" stroke-width="7"/><ellipse cx="566.0" cy="3189.0" rx="8.5" ry="12.5" fill="#e0e0e0" stroke="#111" stroke-width="7"/><ellipse cx="585.0" cy="3189.0" rx="8.5" ry="12.5" fill="#e0e0e0" stroke="#111" stroke-width="7"/><ellipse cx="602.5" cy="3189.0" rx="8.5" ry="12.5" fill="#e0e0e0" stroke="#111" stroke-width="7"/><ellipse cx="622.0" cy="3189.0" rx="8.5" ry="12.5" fill="#e0e0e0" stroke="#111" stroke-width="7"/><ellipse cx="639.0" cy="3189.0" rx="8.5" ry="12.5" fill="#e0e0e0" stroke="#111" stroke-width="7"/><ellipse cx="658.7" cy="3189.0" rx="8.5" ry="12.5" fill="#e0e0e0" stroke="#111" stroke-width="7"/><ellipse cx="678.0" cy="3189.0" rx="8.5" ry="12.5" fill="#e0e0e0" stroke="#111" stroke-width="7"/><ellipse cx="697.6" cy="3189.0" rx="8.5" ry="12.5" fill="#e0e0e0" stroke="#111" stroke-width="7"/><ellipse cx="717.0" cy="3189.0" rx="8.5" ry="12.5" fill="#e0e0e0" stroke="#111" stroke-width="7"/><ellipse cx="740.0" cy="3189.0" rx="8.5" ry="12.5" fill="#e0e0e0" stroke="#111" stroke-width="7"/><ellipse cx="772.0" cy="3189.0" rx="8.5" ry="12.5" fill="#e0e0e0" stroke="#111" stroke-width="7"/><ellipse cx="805.0" cy="3189.0" rx="8.5" ry="12.5" fill="#e0e0e0" stroke="#111" stroke-width="7"/><ellipse cx="836.0" cy="3189.0" rx="8.5" ry="12.5" fill="#e0e0e0" stroke="#111" stroke-width="7"/><ellipse cx="872.0" cy="3189.0" rx="8.5" ry="12.5" fill="#e0e0e0" stroke="#111" stroke-width="7"/><ellipse cx="903.0" cy="3189.0" rx="8.5" ry="12.5" fill="#e0e0e0" stroke="#111" stroke-width="7"/><ellipse cx="933.7" cy="3189.0" rx="8.5" ry="12.5" fill="#e0e0e0" stroke="#111" stroke-width="7"/><ellipse cx="962.0" cy="3201.4" rx="8.5" ry="12.5" fill="#e0e0e0" stroke="#111" stroke-width="7"/><ellipse cx="990.0" cy="3201.4" rx="8.5" ry="12.5" fill="#e0e0e0" stroke="#111" stroke-width="7"/><ellipse cx="1021.0" cy="3201.4" rx="8.5" ry="12.5" fill="#e0e0e0" stroke="#111" stroke-width="7"/><ellipse cx="1052.0" cy="3201.4" rx="8.5" ry="12.5" fill="#e0e0e0" stroke="#111" stroke-width="7"/><ellipse cx="1082.7" cy="3201.4" rx="8.5" ry="12.5" fill="#e0e0e0" stroke="#111" stroke-width="7"/><ellipse cx="1105.8" cy="3201.4" rx="8.5" ry="12.5" fill="#e0e0e0" stroke="#111" stroke-width="7"/><ellipse cx="1134.0" cy="3201.4" rx="8.5" ry="12.5" fill="#e0e0e0" stroke="#111" stroke-width="7"/><polygon points="512.0,3175.0 525.0,3163.0 538.0,3175.0 525.0,3187.0" fill="#000"/><polyline points="265.5,3137.0 281.0,3112.0 496.7,2987.5 1134.0,2937.0" fill="none" stroke="#00c3ea" stroke-width="6" stroke-linejoin="round" /><polyline points="265.5,3122.0 281.0,3097.0 496.7,3012.5 1134.0,2915.0" fill="none" stroke="#fba81d" stroke-width="6" stroke-linejoin="round" /><polyline points="265.5,3075.0 281.0,3066.0 496.7,3100.3 1134.0,2718.7" fill="none" stroke="#9457ab" stroke-width="6" stroke-linejoin="round" /><rect x="251.50" y="3123.00" width="28.00" height="28.00" fill="#00c3ea"/><rect x="267.00" y="3098.00" width="28.00" height="28.00" fill="#00c3ea"/><rect x="482.70" y="2973.50" width="28.00" height="28.00" fill="#00c3ea"/><rect x="1120.00" y="2923.00" width="28.00" height="28.00" fill="#00c3ea"/><rect x="251.50" y="3108.00" width="28.00" height="28.00" fill="#fba81d"/><rect x="267.00" y="3083.00" width="28.00" height="28.00" fill="#fba81d"/><rect x="482.70" y="2998.50" width="28.00" height="28.00" fill="#fba81d"/><rect x="1120.00" y="2901.00" width="28.00" height="28.00" fill="#fba81d"/><rect x="251.50" y="3061.00" width="28.00" height="28.00" fill="#9457ab"/><rect x="267.00" y="3052.00" width="28.00" height="28.00" fill="#9457ab"/><rect x="482.70" y="3086.30" width="28.00" height="28.00" fill="#9457ab"/><rect x="1120.00" y="2704.70" width="28.00" height="28.00" fill="#9457ab"/><polyline points="257.0,3556.0 258.0,3566.0 262.0,3540.0 266.0,3560.0 275.0,3548.0 285.0,3540.0 296.0,3536.0 310.0,3534.0 327.0,3535.0 345.0,3526.0 363.0,3519.0 380.0,3512.0 400.0,3508.0 420.0,3510.0 445.0,3512.0 463.0,3512.0 481.0,3517.0 500.0,3514.0 517.0,3511.0 540.0,3506.0 568.0,3503.0 585.0,3498.0 604.0,3508.0 620.0,3494.0 640.0,3488.0 660.0,3486.0 685.0,3484.0" fill="none" stroke="#c3181d" stroke-width="26" stroke-linejoin="round" /><polygon points="242.0,3556.0 257.0,3540.0 272.0,3556.0 257.0,3572.0" fill="#c3181d"/><polygon points="243.0,3554.1 258.0,3538.1 273.0,3554.1 258.0,3570.1" fill="#c3181d"/><polygon points="247.0,3543.1 262.0,3527.1 277.0,3543.1 262.0,3559.1" fill="#c3181d"/><polygon points="251.0,3571.1 266.0,3555.1 281.0,3571.1 266.0,3587.1" fill="#c3181d"/><polygon points="260.0,3542.1 275.0,3526.1 290.0,3542.1 275.0,3558.1" fill="#c3181d"/><polygon points="270.0,3530.4 285.0,3514.4 300.0,3530.4 285.0,3546.4" fill="#c3181d"/><polygon points="281.0,3544.4 296.0,3528.4 311.0,3544.4 296.0,3560.4" fill="#c3181d"/><polygon points="295.0,3541.4 310.0,3525.4 325.0,3541.4 310.0,3557.4" fill="#c3181d"/><polygon points="312.0,3524.7 327.0,3508.7 342.0,3524.7 327.0,3540.7" fill="#c3181d"/><polygon points="330.0,3521.2 345.0,3505.2 360.0,3521.2 345.0,3537.2" fill="#c3181d"/><polygon points="348.0,3530.5 363.0,3514.5 378.0,3530.5 363.0,3546.5" fill="#c3181d"/><polygon points="365.0,3513.8 380.0,3497.8 395.0,3513.8 380.0,3529.8" fill="#c3181d"/><polygon points="385.0,3496.0 400.0,3480.0 415.0,3496.0 400.0,3512.0" fill="#c3181d"/><polygon points="405.0,3511.3 420.0,3495.3 435.0,3511.3 420.0,3527.3" fill="#c3181d"/><polygon points="430.0,3523.7 445.0,3507.7 460.0,3523.7 445.0,3539.7" fill="#c3181d"/><polygon points="448.0,3507.7 463.0,3491.7 478.0,3507.7 463.0,3523.7" fill="#c3181d"/><polygon points="466.0,3506.4 481.0,3490.4 496.0,3506.4 481.0,3522.4" fill="#c3181d"/><polygon points="485.0,3521.0 500.0,3505.0 515.0,3521.0 500.0,3537.0" fill="#c3181d"/><polygon points="502.0,3519.7 517.0,3503.7 532.0,3519.7 517.0,3535.7" fill="#c3181d"/><polygon points="525.0,3496.7 540.0,3480.7 555.0,3496.7 540.0,3512.7" fill="#c3181d"/><polygon points="553.0,3496.7 568.0,3480.7 583.0,3496.7 568.0,3512.7" fill="#c3181d"/><polygon points="570.0,3508.9 585.0,3492.9 600.0,3508.9 585.0,3524.9" fill="#c3181d"/><polygon points="589.0,3511.5 604.0,3495.5 619.0,3511.5 604.0,3527.5" fill="#c3181d"/><polygon points="605.0,3482.2 620.0,3466.2 635.0,3482.2 620.0,3498.2" fill="#c3181d"/><polygon points="625.0,3487.5 640.0,3471.5 655.0,3487.5 640.0,3503.5" fill="#c3181d"/><polygon points="645.0,3498.0 660.0,3482.0 675.0,3498.0 660.0,3514.0" fill="#c3181d"/><polygon points="670.0,3481.4 685.0,3465.4 700.0,3481.4 685.0,3497.4" fill="#c3181d"/><polyline points="685.5,3486.6 699.0,3481.0 718.0,3481.0 740.0,3489.0 756.7,3489.0 860.8,3486.6 874.5,3483.8 902.0,3489.3 934.8,3504.7 965.0,3506.8 997.8,3499.0 1030.7,3492.0 1052.6,3486.6 1082.7,3481.0 1104.7,3503.0 1132.0,3481.0" fill="none" stroke="#c3181d" stroke-width="6" stroke-linejoin="round" /><polygon points="672.5,3486.6 685.5,3473.6 698.5,3486.6 685.5,3499.6" fill="#c3181d"/><polygon points="686.0,3481.0 699.0,3468.0 712.0,3481.0 699.0,3494.0" fill="#c3181d"/><polygon points="705.0,3481.0 718.0,3468.0 731.0,3481.0 718.0,3494.0" fill="#c3181d"/><polygon points="727.0,3489.0 740.0,3476.0 753.0,3489.0 740.0,3502.0" fill="#c3181d"/><polygon points="847.8,3486.6 860.8,3473.6 873.8,3486.6 860.8,3499.6" fill="#c3181d"/><polygon points="861.5,3483.8 874.5,3470.8 887.5,3483.8 874.5,3496.8" fill="#c3181d"/><polygon points="889.0,3489.3 902.0,3476.3 915.0,3489.3 902.0,3502.3" fill="#c3181d"/><polygon points="921.8,3504.7 934.8,3491.7 947.8,3504.7 934.8,3517.7" fill="#c3181d"/><polygon points="952.0,3506.8 965.0,3493.8 978.0,3506.8 965.0,3519.8" fill="#c3181d"/><polygon points="984.8,3499.0 997.8,3486.0 1010.8,3499.0 997.8,3512.0" fill="#c3181d"/><polygon points="1017.7,3492.0 1030.7,3479.0 1043.7,3492.0 1030.7,3505.0" fill="#c3181d"/><polygon points="1039.6,3486.6 1052.6,3473.6 1065.6,3486.6 1052.6,3499.6" fill="#c3181d"/><polygon points="1069.7,3481.0 1082.7,3468.0 1095.7,3481.0 1082.7,3494.0" fill="#c3181d"/><polygon points="1091.7,3503.0 1104.7,3490.0 1117.7,3503.0 1104.7,3516.0" fill="#c3181d"/><polygon points="1119.0,3481.0 1132.0,3468.0 1145.0,3481.0 1132.0,3494.0" fill="#c3181d"/><line x1="262.50" y1="3784.00" x2="312.50" y2="3784.00" stroke="#9457ab" stroke-width="6" /><line x1="544.00" y1="3784.00" x2="594.00" y2="3784.00" stroke="#fba81d" stroke-width="6" /><line x1="262.50" y1="3859.00" x2="312.50" y2="3859.00" stroke="#00c3ea" stroke-width="6" /><text x="322.00" y="3801.00" font-size="55.23" font-weight="bold" font-style="normal" textLength="95.22" lengthAdjust="spacingAndGlyphs" fill="#000"  stroke="#000" stroke-width="1.2">LTR:</text><text x="416.96" y="3801.00" font-size="55.23" font-weight="bold" font-style="italic" textLength="81.83" lengthAdjust="spacingAndGlyphs" fill="#000"  stroke="#000" stroke-width="1.2">gag</text><text x="602.87" y="3801.00" font-size="55.23" font-weight="bold" font-style="normal" textLength="96.19" lengthAdjust="spacingAndGlyphs" fill="#000"  stroke="#000" stroke-width="1.2">LTR:</text><text x="694.34" y="3801.00" font-size="55.23" font-weight="bold" font-style="italic" textLength="57.06" lengthAdjust="spacingAndGlyphs" fill="#000"  stroke="#000" stroke-width="1.2">tat</text><text x="765.19" y="3801.00" font-size="55.23" font-weight="bold" font-style="normal" textLength="134.10" lengthAdjust="spacingAndGlyphs" fill="#000"  stroke="#000" stroke-width="1.2">exon1</text><text x="322.00" y="3875.00" font-size="53.78" font-weight="bold" font-style="normal" textLength="95.22" lengthAdjust="spacingAndGlyphs" fill="#000"  stroke="#000" stroke-width="1.2">LTR:</text><text x="413.06" y="3875.00" font-size="53.78" font-weight="bold" font-style="italic" textLength="167.41" lengthAdjust="spacingAndGlyphs" fill="#000"  stroke="#000" stroke-width="1.2">tat/rev</text><text x="588.35" y="3875.00" font-size="53.78" font-weight="bold" font-style="normal" textLength="122.35" lengthAdjust="spacingAndGlyphs" fill="#000"  stroke="#000" stroke-width="1.2">exon2</text></svg></body></html>
